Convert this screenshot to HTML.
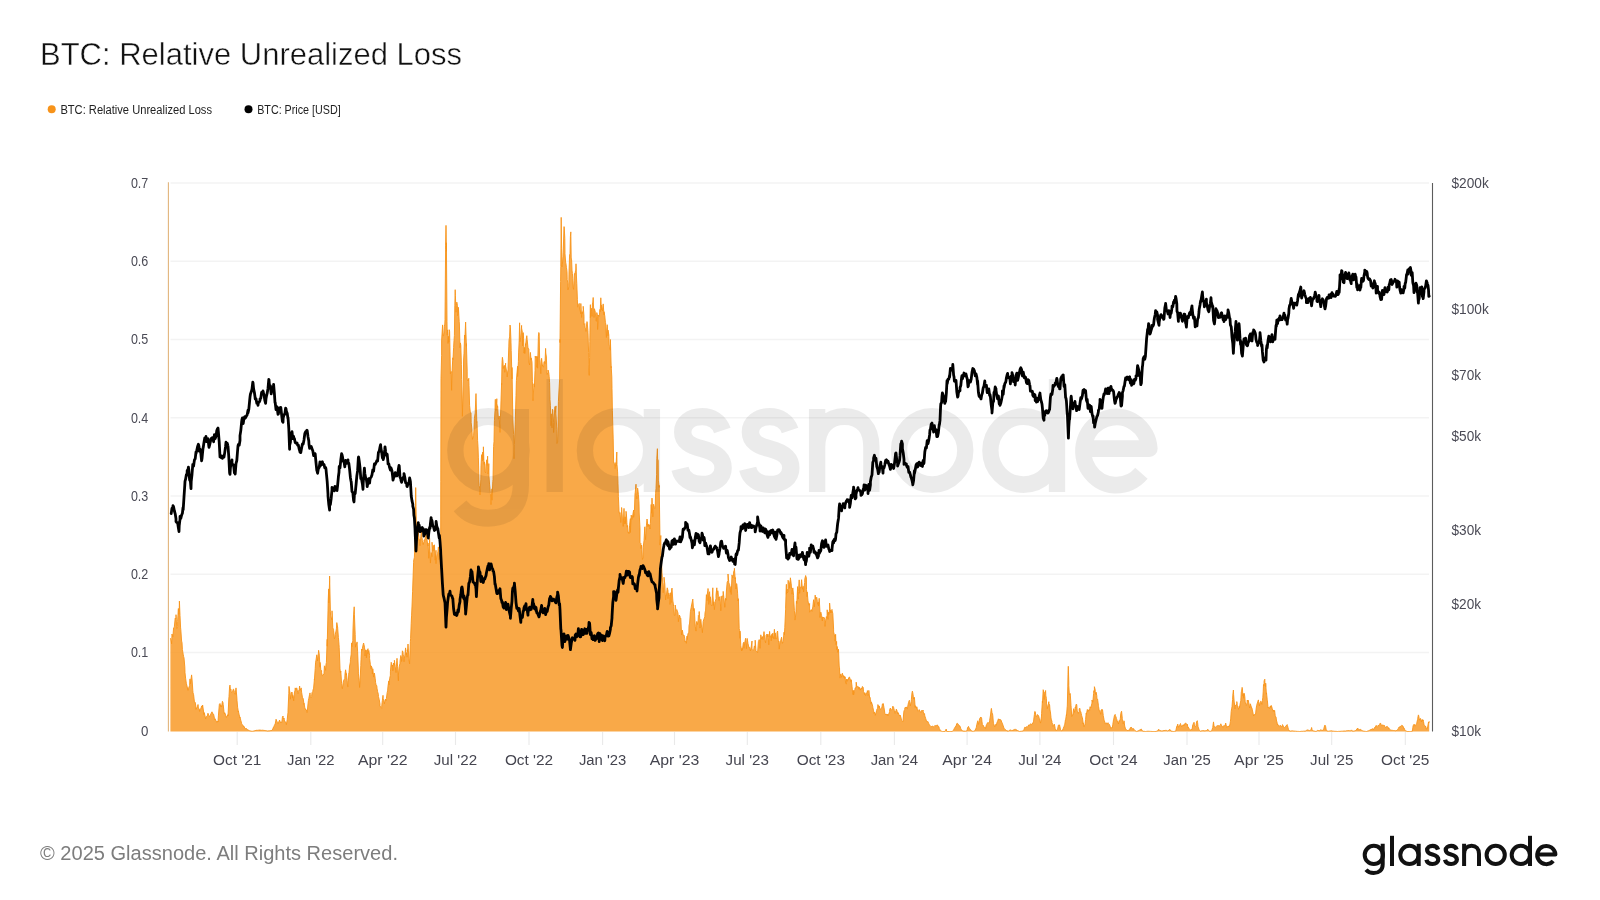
<!DOCTYPE html>
<html><head><meta charset="utf-8"><title>BTC: Relative Unrealized Loss</title>
<style>
html,body{margin:0;padding:0;background:#fff;}
body{width:1600px;height:900px;overflow:hidden;font-family:"Liberation Sans",sans-serif;}
svg{display:block;will-change:transform;}
text{font-family:"Liberation Sans",sans-serif;}
</style></head><body>
<svg width="1600" height="900" viewBox="0 0 1600 900">
<defs>
<g id="gn" fill="none" stroke-linecap="butt" stroke-linejoin="round">
<circle cx="1373.8" cy="854.9" r="9.1"/>
<path d="M1382.7 843.8 V864.2 C1382.7 870.2 1379 873 1373.7 873 C1370.4 873 1367.8 871.9 1366 869.7"/>
<path d="M1392 835.8 V866"/>
<circle cx="1409.4" cy="854.9" r="9.1"/>
<path d="M1418.7 843.8 V866"/>
<path transform="translate(1424.4 843.8) scale(1.0667 1.0230)" d="M12.8 5.6 C12 3.2 10 2 7.6 2 C4.6 2 2.6 3.7 2.6 6 C2.6 8.6 4.6 9.6 7.6 10.4 C11 11.3 13 12.6 13 15.4 C13 18 10.8 19.7 7.7 19.7 C4.6 19.7 2.5 18.2 1.9 15.6"/>
<path transform="translate(1443 843.8) scale(1.0667 1.0230)" d="M12.8 5.6 C12 3.2 10 2 7.6 2 C4.6 2 2.6 3.7 2.6 6 C2.6 8.6 4.6 9.6 7.6 10.4 C11 11.3 13 12.6 13 15.4 C13 18 10.8 19.7 7.7 19.7 C4.6 19.7 2.5 18.2 1.9 15.6"/>
<path d="M1464.1 866 V843.8 M1464.1 854 C1464.1 848.7 1467.2 845.8 1471.6 845.8 C1476 845.8 1479 848.7 1479 854 V866"/>
<circle cx="1495.7" cy="854.9" r="9.1"/>
<circle cx="1520.8" cy="854.9" r="9.1"/>
<path d="M1530 835.8 V866"/>
<path d="M1537.4 854.4 H1555.4 A9.1 9.1 0 1 0 1553.2 861"/>
</g></defs>
<rect width="1600" height="900" fill="#fff"/>
<!-- title -->
<text x="40" y="64.7" font-size="31.2" fill="#111" stroke="#fff" stroke-width="0.45" textLength="422" lengthAdjust="spacingAndGlyphs">BTC: Relative Unrealized Loss</text>
<!-- legend -->
<circle cx="51.7" cy="109.3" r="4" fill="#f7931a"/>
<text x="60.4" y="113.8" font-size="12" fill="#222" textLength="151.6" lengthAdjust="spacingAndGlyphs">BTC: Relative Unrealized Loss</text>
<circle cx="248.5" cy="109.3" r="4" fill="#000"/>
<text x="257.2" y="113.8" font-size="12" fill="#222" textLength="83.5" lengthAdjust="spacingAndGlyphs">BTC: Price [USD]</text>
<!-- grid -->
<g stroke="#f3f3f3" stroke-width="1.5"><line x1="170.5" x2="1429" y1="182.9" y2="182.9"/><line x1="170.5" x2="1429" y1="261.2" y2="261.2"/><line x1="170.5" x2="1429" y1="339.5" y2="339.5"/><line x1="170.5" x2="1429" y1="417.8" y2="417.8"/><line x1="170.5" x2="1429" y1="496.0" y2="496.0"/><line x1="170.5" x2="1429" y1="574.3" y2="574.3"/><line x1="170.5" x2="1429" y1="652.6" y2="652.6"/></g>
<!-- watermark -->

<!-- orange -->
<line x1="168.4" x2="168.4" y1="182.3" y2="731.5" stroke="#e2b57c" stroke-width="1.1"/>
<path d="M170.4 731.5 L170.4 638.2 L171.2 640.9 L171.6 643.8 L172.0 634.0 L172.8 636.9 L173.0 635.4 L173.6 627.8 L174.4 627.1 L174.4 626.4 L175.2 618.0 L176.0 618.9 L176.0 614.7 L176.8 628.5 L177.6 626.7 L177.6 621.4 L178.4 608.5 L178.5 614.5 L179.2 614.4 L179.4 601.1 L180.0 615.5 L180.6 627.9 L180.8 629.4 L181.6 641.1 L182.0 642.4 L182.4 649.5 L183.2 654.3 L183.6 656.5 L184.0 657.8 L184.8 666.9 L185.0 672.7 L185.6 678.2 L186.4 683.8 L186.4 683.8 L187.2 686.8 L188.0 690.3 L188.0 688.5 L188.8 687.5 L189.6 685.7 L190.0 678.9 L190.4 683.8 L191.2 677.8 L191.6 674.9 L192.0 678.9 L192.8 690.3 L193.0 692.7 L193.6 694.7 L194.4 701.8 L194.4 701.9 L195.2 702.3 L196.0 707.3 L196.0 709.3 L196.8 707.8 L197.6 706.3 L198.0 704.5 L198.4 708.0 L199.2 709.0 L199.6 711.5 L200.0 709.5 L200.8 708.4 L201.0 708.5 L201.6 705.9 L202.4 707.3 L202.6 705.0 L203.2 709.0 L204.0 714.6 L204.0 712.5 L204.8 714.9 L205.6 718.8 L206.0 717.7 L206.4 716.6 L207.2 716.2 L208.0 713.2 L208.0 713.4 L208.8 715.4 L209.6 716.6 L210.0 715.9 L210.4 714.9 L211.2 713.2 L212.0 711.8 L212.4 712.4 L212.8 714.0 L213.6 714.2 L214.4 718.1 L214.4 719.5 L215.2 718.8 L216.0 721.4 L216.4 721.2 L216.8 722.5 L217.6 721.2 L218.0 722.0 L218.4 715.9 L219.2 706.0 L219.4 704.3 L220.0 703.5 L220.8 706.8 L221.0 705.5 L221.6 706.9 L222.4 701.3 L223.0 702.7 L223.2 704.6 L224.0 711.8 L224.4 713.9 L224.8 712.8 L225.6 715.1 L226.4 717.1 L226.4 717.5 L227.2 716.0 L228.0 714.6 L228.0 716.0 L228.8 699.0 L229.0 696.6 L229.6 686.4 L230.0 685.1 L230.4 689.8 L230.9 689.0 L231.2 691.5 L231.6 692.4 L232.0 691.8 L232.8 690.9 L233.0 689.5 L233.6 689.2 L234.4 692.1 L234.4 692.6 L235.2 694.3 L236.0 687.9 L236.0 687.9 L236.8 697.0 L237.0 700.2 L237.6 707.2 L238.4 712.0 L238.4 711.3 L239.2 714.9 L240.0 718.0 L240.0 717.3 L240.8 720.3 L241.6 723.3 L241.6 723.9 L242.4 724.6 L243.2 725.7 L243.6 726.9 L244.0 726.4 L244.8 728.1 L245.6 728.6 L246.0 728.9 L246.4 728.4 L247.2 729.5 L248.0 730.0 L248.8 730.3 L249.0 730.4 L249.6 730.7 L250.4 730.9 L251.2 731.1 L252.0 731.4 L252.0 731.4 L252.8 731.2 L253.6 731.0 L254.4 730.8 L255.2 730.6 L256.0 730.4 L256.0 730.3 L256.8 730.3 L257.6 730.3 L258.4 730.2 L259.2 730.1 L260.0 730.0 L260.0 730.1 L260.8 730.2 L261.6 730.3 L262.4 730.2 L263.2 730.3 L264.0 730.4 L264.0 730.4 L264.8 730.5 L265.6 730.6 L266.4 730.7 L267.2 730.9 L268.0 731.0 L268.0 731.0 L268.8 730.8 L269.6 730.8 L270.4 730.6 L271.2 730.6 L272.0 730.4 L272.0 730.4 L272.8 728.8 L273.6 726.9 L274.0 726.8 L274.4 725.3 L275.2 724.0 L276.0 719.7 L276.0 719.2 L276.8 721.2 L277.6 722.4 L278.0 723.7 L278.4 722.6 L279.2 721.1 L279.6 720.0 L280.0 722.1 L280.8 722.0 L281.4 723.0 L281.6 722.8 L282.1 720.1 L282.4 717.4 L283.0 716.0 L283.2 717.8 L283.9 719.0 L284.0 718.2 L284.6 721.7 L284.8 721.5 L285.6 721.9 L286.4 723.9 L286.4 724.6 L287.2 719.7 L288.0 712.2 L288.0 710.9 L288.8 693.5 L289.0 686.4 L289.6 690.9 L289.9 692.1 L290.4 697.0 L290.4 699.2 L291.1 694.4 L291.2 692.8 L292.0 692.3 L292.0 692.0 L292.8 698.1 L292.9 695.4 L293.6 700.3 L293.6 700.9 L294.4 692.9 L295.0 690.3 L295.2 687.9 L296.0 689.9 L296.4 688.1 L296.8 687.9 L297.6 692.3 L298.0 693.7 L298.4 691.3 L299.2 689.7 L299.6 686.0 L300.0 690.3 L300.8 689.0 L301.2 687.9 L301.6 692.2 L302.4 697.0 L302.6 697.7 L303.2 698.6 L304.0 704.4 L304.0 703.3 L304.8 707.6 L305.6 709.8 L305.6 709.2 L306.4 710.0 L307.0 712.3 L307.2 712.6 L308.0 703.9 L308.4 700.5 L308.8 698.4 L309.6 694.4 L310.0 692.9 L310.4 696.4 L311.2 697.6 L311.6 696.6 L312.0 692.7 L312.8 691.4 L313.0 690.0 L313.6 688.2 L314.4 679.4 L314.4 680.1 L315.2 668.7 L315.6 662.2 L316.0 660.1 L316.8 654.8 L317.0 655.6 L317.6 661.0 L318.4 653.2 L318.6 650.3 L319.2 653.7 L320.0 667.2 L320.0 662.4 L320.8 669.6 L321.6 670.7 L321.6 672.8 L322.4 675.8 L323.0 675.3 L323.2 675.2 L324.0 673.4 L324.4 665.8 L324.8 666.3 L325.6 670.4 L326.0 664.2 L326.4 662.6 L327.2 639.3 L327.2 646.2 L328.0 610.9 L328.2 600.8 L328.7 588.9 L328.8 603.0 L329.6 580.8 L329.6 576.0 L330.4 611.8 L330.6 615.9 L331.2 617.4 L332.0 620.0 L332.0 610.8 L332.8 627.9 L333.6 629.6 L333.6 630.3 L334.4 638.8 L335.0 637.2 L335.2 634.7 L336.0 631.1 L336.4 628.8 L336.8 622.6 L337.6 627.2 L337.6 627.1 L338.4 637.5 L339.0 644.4 L339.2 647.4 L340.0 668.8 L340.4 672.6 L340.8 671.0 L341.6 683.7 L342.0 687.3 L342.4 688.7 L343.2 682.5 L343.6 680.5 L344.0 679.8 L344.8 678.4 L345.0 673.9 L345.6 669.8 L346.4 675.0 L346.4 673.6 L347.2 680.3 L347.6 686.8 L348.0 687.0 L348.8 673.0 L349.0 672.5 L349.6 666.0 L350.4 661.9 L350.4 659.7 L351.2 654.1 L351.6 642.9 L352.0 646.6 L352.8 640.5 L353.0 628.9 L353.6 614.9 L354.2 606.8 L354.4 614.2 L355.2 634.7 L355.4 647.2 L356.0 643.6 L356.8 644.2 L357.0 641.9 L357.6 651.2 L358.4 671.1 L358.4 673.9 L359.2 680.3 L359.6 687.5 L360.0 681.8 L360.8 665.5 L361.0 659.6 L361.6 649.0 L362.4 650.2 L362.4 648.3 L363.2 644.4 L363.6 643.0 L364.0 644.8 L364.5 647.2 L364.8 650.7 L365.0 656.0 L365.6 649.9 L366.4 650.2 L366.4 657.9 L367.2 651.3 L368.0 648.7 L368.0 653.7 L368.8 650.4 L369.6 655.4 L369.6 658.4 L370.4 664.5 L371.0 668.8 L371.2 665.9 L372.0 667.7 L372.4 673.9 L372.8 668.8 L373.6 677.1 L374.0 673.6 L374.4 673.0 L375.2 678.4 L375.6 682.6 L376.0 684.5 L376.8 685.9 L377.0 688.2 L377.6 691.6 L378.4 694.5 L378.4 696.4 L379.2 699.4 L380.0 704.2 L380.0 705.8 L380.8 707.5 L381.6 708.3 L381.6 707.8 L382.1 702.4 L382.4 700.3 L383.0 695.3 L383.2 698.6 L383.9 700.1 L384.0 701.4 L384.4 703.8 L384.8 701.5 L385.6 699.1 L386.0 700.6 L386.4 698.5 L387.2 692.4 L387.6 690.9 L388.0 686.1 L388.8 680.9 L389.0 684.9 L389.6 678.7 L390.4 675.3 L390.4 671.9 L391.2 662.3 L391.6 663.4 L392.0 666.2 L392.5 665.1 L392.8 670.8 L393.0 668.8 L393.6 663.0 L394.4 665.2 L394.4 660.3 L395.2 666.6 L396.0 672.5 L396.0 670.6 L396.8 660.6 L397.0 658.3 L397.6 666.7 L397.9 669.7 L398.4 680.8 L398.4 675.3 L399.2 666.7 L400.0 663.2 L400.0 661.7 L400.8 655.5 L401.6 658.4 L401.6 661.5 L402.1 656.4 L402.4 650.8 L403.0 652.1 L403.2 655.1 L403.9 656.2 L404.0 661.7 L404.4 658.2 L404.8 656.0 L405.6 647.9 L405.6 652.2 L406.4 654.9 L406.5 652.7 L407.0 657.2 L407.2 649.7 L407.5 651.7 L408.0 644.0 L408.4 650.1 L408.8 658.9 L409.6 663.8 L409.6 662.5 L410.4 641.3 L410.6 638.5 L411.2 623.5 L411.6 615.2 L412.0 606.0 L412.6 591.3 L412.8 585.0 L413.6 562.3 L413.6 561.1 L414.4 557.2 L415.0 540.5 L415.2 520.1 L415.7 487.6 L416.0 506.6 L416.5 536.2 L416.8 527.9 L417.6 540.6 L418.0 536.7 L418.4 532.0 L419.2 540.2 L420.0 539.3 L420.0 545.7 L420.8 536.4 L421.6 527.9 L422.0 537.3 L422.4 540.7 L423.2 544.6 L424.0 541.6 L424.0 539.9 L424.8 539.8 L425.6 536.8 L426.0 534.3 L426.4 534.3 L427.2 541.1 L428.0 546.1 L428.0 543.0 L428.8 558.3 L429.6 538.5 L430.0 550.3 L430.4 563.1 L431.2 552.6 L432.0 556.7 L432.0 542.2 L432.8 551.2 L433.6 545.4 L434.0 550.5 L434.4 544.8 L435.2 560.2 L436.0 550.3 L436.0 563.6 L436.8 556.0 L437.6 553.3 L438.0 551.2 L438.4 546.9 L439.2 559.7 L440.0 553.0 L440.0 558.6 L440.7 537.9 L440.8 481.2 L441.0 378.8 L441.6 355.4 L441.6 341.0 L442.4 328.1 L442.6 324.9 L443.2 336.0 L443.6 335.9 L444.0 332.9 L444.4 326.2 L444.8 324.1 L445.0 319.5 L445.6 249.8 L445.6 245.8 L446.0 225.4 L446.4 251.3 L446.4 242.8 L447.0 321.7 L447.2 335.2 L447.6 329.9 L448.0 343.4 L448.4 336.3 L448.8 342.1 L449.2 329.7 L449.6 331.5 L450.0 351.1 L450.4 373.7 L451.2 371.5 L451.6 390.3 L452.0 372.8 L452.8 357.8 L453.0 359.7 L453.6 347.6 L454.0 340.6 L454.4 335.5 L454.8 305.8 L455.2 289.7 L455.4 295.6 L456.0 312.2 L456.4 305.6 L456.8 302.1 L457.4 305.2 L457.6 315.7 L458.4 313.0 L458.4 307.3 L459.2 321.3 L459.4 324.0 L460.0 347.7 L460.4 342.9 L460.8 345.3 L461.4 364.3 L461.6 379.6 L462.4 412.3 L462.4 416.3 L463.2 385.9 L463.6 360.0 L464.0 353.2 L464.6 335.0 L464.8 340.0 L465.6 322.9 L465.6 322.0 L466.4 346.3 L466.4 343.6 L467.2 371.1 L467.2 379.4 L468.0 380.1 L468.0 381.0 L468.8 378.3 L469.0 385.6 L469.6 405.7 L470.4 412.7 L471.0 412.8 L471.2 422.7 L472.0 430.2 L472.4 439.4 L472.8 438.0 L473.6 435.3 L474.0 429.6 L474.4 418.5 L475.1 413.4 L475.2 412.9 L476.0 393.6 L476.0 395.0 L476.8 422.3 L477.0 421.7 L477.6 440.6 L478.0 446.8 L478.4 457.8 L479.0 481.9 L479.2 485.5 L480.0 490.3 L480.0 494.9 L480.8 479.1 L481.0 465.8 L481.6 454.7 L482.0 455.5 L482.4 460.9 L482.5 452.2 L483.2 459.9 L483.4 446.8 L484.0 464.3 L484.4 461.9 L484.8 471.6 L485.6 472.8 L486.0 464.2 L486.4 463.1 L486.7 459.8 L487.2 465.5 L487.6 456.2 L488.0 473.9 L488.5 471.1 L488.8 463.6 L489.0 476.3 L489.6 484.9 L490.0 488.3 L490.4 493.6 L491.0 504.6 L491.2 499.8 L492.0 488.8 L492.0 500.2 L492.8 481.4 L493.0 479.7 L493.6 446.5 L494.0 441.6 L494.4 420.6 L495.0 410.6 L495.2 399.4 L496.0 400.2 L496.0 410.4 L496.8 398.7 L496.9 403.8 L497.6 407.4 L497.6 406.2 L498.4 419.1 L499.0 418.4 L499.2 416.1 L500.0 432.4 L500.0 426.0 L500.8 408.0 L501.0 400.8 L501.6 383.4 L501.6 384.7 L502.0 362.6 L502.4 357.3 L503.0 361.4 L503.2 368.6 L504.0 365.5 L504.4 365.5 L504.8 372.3 L505.6 363.2 L505.6 365.9 L506.4 370.2 L507.0 372.0 L507.2 377.0 L508.0 369.6 L508.0 368.4 L508.8 346.9 L509.0 340.2 L509.6 336.9 L510.0 325.0 L510.4 327.3 L511.0 342.4 L511.2 350.6 L512.0 378.9 L512.0 367.5 L512.8 418.0 L513.6 434.5 L514.0 458.7 L514.4 444.8 L515.2 424.1 L516.0 395.5 L516.4 380.6 L516.8 375.1 L517.6 366.2 L517.6 376.5 L518.4 361.6 L518.6 352.9 L519.2 340.3 L519.6 322.8 L520.0 341.7 L520.6 337.8 L520.8 336.0 L521.6 325.4 L521.6 328.1 L522.4 332.4 L522.6 345.8 L523.2 332.6 L523.6 338.7 L524.0 353.1 L524.6 347.4 L524.8 353.5 L525.6 343.7 L525.6 345.2 L526.4 338.0 L526.8 335.7 L527.2 339.7 L528.0 348.3 L528.0 348.1 L528.8 349.1 L529.0 362.4 L529.6 365.0 L530.0 355.8 L530.4 352.4 L531.0 360.0 L531.2 357.9 L532.0 362.2 L532.4 381.3 L532.8 397.0 L533.0 400.7 L533.6 390.0 L534.0 383.7 L534.4 387.1 L535.0 370.6 L535.2 356.1 L536.0 358.0 L536.4 356.3 L536.8 367.3 L537.6 356.5 L537.6 368.2 L538.4 336.2 L538.8 332.5 L539.2 333.5 L539.6 358.2 L540.0 360.9 L540.8 373.7 L541.0 366.2 L541.6 358.3 L542.4 365.7 L542.4 364.9 L543.2 366.7 L543.6 367.2 L544.0 361.6 L544.8 361.9 L545.0 363.7 L545.6 348.4 L545.8 353.0 L546.4 357.0 L546.8 369.7 L547.2 374.5 L548.0 372.6 L548.0 370.0 L548.8 373.0 L549.2 376.7 L549.6 382.7 L550.0 399.5 L550.4 405.3 L551.0 425.7 L551.2 413.8 L551.5 420.5 L552.0 427.9 L552.4 409.2 L552.8 409.9 L553.6 422.3 L553.6 432.5 L554.4 415.0 L555.0 406.6 L555.2 412.3 L556.0 405.9 L556.0 413.9 L556.8 429.5 L557.0 443.5 L557.6 442.2 L558.0 426.8 L558.4 401.6 L559.0 390.0 L559.2 387.0 L559.6 379.7 L560.0 339.4 L560.0 342.6 L560.6 281.5 L560.8 266.3 L561.2 217.4 L561.6 248.7 L562.0 266.9 L562.4 264.2 L563.0 256.3 L563.2 252.2 L563.6 240.0 L564.0 226.6 L564.2 226.8 L564.8 238.4 L565.0 253.7 L565.6 262.0 L566.0 263.9 L566.4 267.3 L567.0 271.7 L567.2 279.5 L568.0 284.0 L568.0 289.8 L568.8 287.0 L569.0 273.0 L569.6 254.6 L570.0 253.9 L570.4 236.5 L570.8 231.9 L571.2 258.0 L571.6 259.9 L572.0 270.1 L572.4 273.5 L572.8 278.3 L573.2 287.7 L573.6 289.3 L574.2 280.3 L574.4 273.6 L575.2 274.1 L575.2 272.1 L575.8 270.1 L576.0 263.8 L576.6 280.0 L576.8 283.7 L577.4 299.3 L577.6 307.0 L578.4 306.3 L578.4 305.5 L579.2 303.4 L579.6 309.6 L580.0 309.6 L580.8 313.9 L580.8 303.5 L581.6 317.5 L582.0 311.9 L582.4 313.6 L583.2 309.8 L583.2 306.3 L584.0 316.3 L584.0 324.4 L584.8 323.6 L585.0 327.3 L585.6 328.7 L586.0 331.4 L586.4 326.1 L587.0 321.6 L587.2 322.2 L588.0 332.2 L588.0 332.8 L588.6 352.3 L588.8 364.2 L589.2 375.4 L589.6 357.5 L589.8 341.3 L590.4 304.7 L590.4 317.6 L591.2 311.3 L591.6 308.3 L592.0 316.4 L592.4 304.0 L592.8 302.1 L593.2 297.5 L593.6 308.1 L594.0 317.5 L594.4 308.7 L595.2 311.6 L595.2 311.5 L596.0 320.2 L596.4 321.3 L596.8 312.6 L597.6 316.3 L597.6 329.5 L598.4 315.1 L599.0 316.3 L599.2 316.3 L600.0 309.4 L600.2 311.8 L600.8 297.8 L601.4 310.1 L601.6 305.1 L602.4 309.4 L602.6 311.0 L603.2 303.9 L604.0 314.9 L604.0 311.7 L604.8 316.0 L605.4 322.3 L605.6 322.7 L606.4 337.5 L606.8 328.9 L607.2 324.7 L608.0 335.7 L608.0 330.1 L608.8 334.8 L609.2 345.1 L609.6 346.4 L610.4 350.2 L610.4 339.5 L611.2 367.7 L611.2 366.5 L611.8 376.9 L612.0 388.5 L612.4 410.8 L612.8 425.3 L613.2 438.9 L613.6 462.5 L614.0 462.3 L614.4 464.0 L615.0 468.7 L615.2 468.8 L616.0 462.5 L616.0 466.0 L616.8 452.0 L617.0 464.5 L617.6 471.9 L618.0 483.7 L618.4 496.7 L619.0 510.6 L619.2 512.9 L620.0 513.3 L620.0 512.6 L620.8 522.5 L621.6 509.7 L621.6 507.5 L622.4 517.9 L623.0 518.3 L623.2 526.4 L624.0 508.4 L624.4 520.2 L624.8 524.0 L625.1 516.8 L625.6 523.3 L626.0 511.3 L626.4 513.7 L626.9 522.3 L627.2 527.1 L627.6 525.5 L628.0 532.6 L628.8 532.2 L629.0 533.6 L629.6 525.3 L630.4 518.6 L630.4 532.5 L631.2 515.1 L632.0 517.8 L632.0 519.4 L632.8 514.7 L633.6 510.1 L633.6 517.3 L634.4 511.3 L635.0 493.9 L635.2 492.8 L636.0 484.2 L636.4 495.2 L636.8 498.9 L637.6 492.0 L637.6 488.1 L638.4 494.4 L639.0 503.2 L639.2 513.0 L640.0 528.8 L640.0 542.5 L640.8 543.3 L641.0 548.5 L641.6 545.0 L642.4 559.5 L643.0 557.7 L643.2 547.3 L644.0 540.7 L644.8 526.8 L645.0 533.3 L645.6 539.7 L646.1 527.5 L646.4 525.8 L647.0 519.0 L647.2 520.0 L647.9 526.5 L648.0 524.1 L648.4 526.2 L648.8 524.7 L649.6 525.1 L650.0 529.0 L650.4 523.4 L651.2 504.5 L651.6 513.2 L652.0 498.1 L652.8 516.9 L653.0 513.6 L653.6 504.2 L654.4 507.6 L654.4 508.4 L655.2 508.5 L655.6 493.3 L656.0 488.6 L656.6 474.7 L656.8 458.7 L657.4 448.7 L657.6 459.0 L658.2 460.3 L658.4 480.2 L659.2 487.4 L659.2 485.4 L660.0 541.3 L660.0 545.1 L660.8 535.5 L661.0 549.1 L661.6 564.0 L662.0 572.9 L662.4 577.5 L663.2 592.8 L664.0 582.4 L664.0 577.2 L664.8 584.1 L665.6 600.0 L666.0 595.0 L666.4 595.3 L667.2 587.8 L668.0 590.5 L668.0 598.6 L668.8 592.9 L669.6 596.4 L670.0 604.4 L670.4 596.8 L670.7 592.7 L671.2 602.6 L671.6 590.1 L672.0 588.1 L672.5 596.0 L672.8 600.2 L673.0 601.6 L673.6 606.3 L674.4 615.5 L675.0 615.4 L675.2 605.0 L676.0 610.4 L676.8 609.6 L677.6 611.9 L678.0 613.3 L678.4 621.7 L679.2 615.0 L680.0 616.1 L680.0 618.2 L680.8 618.1 L681.6 635.0 L682.4 630.1 L682.4 630.3 L683.2 635.4 L684.0 635.0 L684.8 638.7 L685.0 641.7 L685.6 640.9 L686.4 643.3 L687.0 636.1 L687.2 639.6 L688.0 633.3 L688.8 632.7 L689.0 625.8 L689.6 623.1 L690.4 611.7 L691.2 607.3 L691.6 604.9 L692.0 603.1 L692.8 599.1 L693.6 610.8 L694.0 608.3 L694.4 610.0 L695.2 626.2 L696.0 631.1 L696.0 625.3 L696.8 621.4 L697.6 624.6 L698.1 621.1 L698.4 615.3 L699.0 614.7 L699.2 611.5 L699.9 620.5 L700.0 628.1 L700.8 619.3 L701.6 627.0 L702.0 628.4 L702.4 632.7 L703.2 621.5 L704.0 618.9 L704.8 616.8 L705.0 612.9 L705.6 610.2 L706.4 594.7 L707.1 600.7 L707.2 594.5 L708.0 590.2 L708.0 588.5 L708.8 604.4 L708.9 594.4 L709.6 591.7 L710.0 602.4 L710.4 596.8 L711.2 605.3 L712.0 605.8 L712.1 601.0 L712.8 587.8 L713.0 595.9 L713.6 605.4 L713.9 601.9 L714.4 609.6 L715.2 601.5 L716.0 598.7 L716.0 595.0 L716.8 587.8 L717.1 594.4 L717.6 590.9 L718.0 590.7 L718.4 596.4 L718.9 600.5 L719.2 598.4 L720.0 596.5 L720.8 610.8 L721.0 607.7 L721.6 596.2 L722.4 596.0 L723.0 596.6 L723.2 591.4 L724.0 598.8 L724.8 607.3 L725.6 598.3 L726.0 600.2 L726.4 591.0 L727.2 581.9 L728.0 580.8 L728.0 574.0 L728.8 582.9 L729.6 584.4 L730.4 592.3 L731.0 586.5 L731.2 594.5 L732.0 574.9 L732.8 578.0 L733.0 577.7 L733.5 576.2 L733.6 571.7 L734.4 570.0 L734.4 568.3 L735.2 578.9 L735.3 577.6 L736.0 589.0 L736.0 584.2 L736.8 583.7 L737.6 593.2 L738.0 601.0 L738.4 598.7 L739.2 628.7 L739.6 630.5 L740.0 638.3 L740.0 631.1 L740.8 645.5 L741.6 650.9 L742.0 648.2 L742.4 650.2 L743.2 643.5 L744.0 642.1 L744.0 648.3 L744.8 642.6 L745.6 638.3 L746.0 640.4 L746.4 648.7 L747.2 638.4 L748.0 643.5 L748.8 647.3 L749.0 647.0 L749.6 647.4 L750.4 650.9 L751.2 646.9 L752.0 641.0 L752.0 649.0 L752.8 650.7 L753.6 650.4 L754.4 645.9 L755.0 647.6 L755.2 640.2 L756.0 650.8 L756.8 652.2 L757.6 652.1 L757.6 652.4 L758.4 641.5 L759.2 639.6 L760.0 641.1 L760.0 648.3 L760.8 634.8 L761.6 639.1 L762.4 636.6 L763.0 639.5 L763.2 638.5 L764.0 631.6 L764.8 639.7 L765.0 640.4 L765.6 642.8 L766.1 635.2 L766.4 634.6 L767.0 634.5 L767.2 634.2 L767.9 637.0 L768.0 634.2 L768.8 644.8 L769.6 631.4 L770.0 636.6 L770.4 637.4 L771.1 635.4 L771.2 640.8 L772.0 633.9 L772.0 638.1 L772.8 633.2 L772.9 635.5 L773.6 638.7 L774.4 629.3 L775.0 639.1 L775.2 632.9 L776.0 638.2 L776.1 638.0 L776.8 638.7 L777.0 632.6 L777.6 631.0 L777.9 635.8 L778.4 641.6 L779.0 641.1 L779.2 649.1 L780.0 642.4 L780.8 640.2 L781.6 637.2 L782.0 640.6 L782.4 643.3 L783.2 641.7 L784.0 632.2 L784.4 634.7 L784.8 627.3 L785.6 609.8 L785.6 608.2 L786.4 584.3 L786.4 594.2 L787.2 589.1 L787.3 592.9 L788.0 591.7 L788.0 580.3 L788.8 581.4 L789.6 584.4 L789.6 588.3 L790.4 577.8 L791.2 583.7 L791.6 589.3 L792.0 594.2 L792.8 587.9 L793.6 595.7 L793.6 597.9 L794.4 610.5 L795.0 620.1 L795.2 619.6 L796.0 611.2 L796.4 601.2 L796.8 603.5 L797.6 586.6 L797.6 595.6 L798.4 599.1 L798.5 591.3 L799.2 579.9 L799.6 593.3 L800.0 590.2 L800.8 586.8 L801.0 587.5 L801.6 579.7 L802.4 589.2 L803.2 586.3 L803.6 592.0 L804.0 587.4 L804.7 582.5 L804.8 578.9 L805.6 575.8 L805.6 575.5 L806.4 578.0 L806.5 589.6 L807.0 596.7 L807.2 591.9 L808.0 600.9 L808.8 605.2 L809.6 603.5 L809.6 612.2 L810.4 611.1 L811.2 609.6 L812.0 611.3 L812.0 610.9 L812.8 606.9 L813.6 599.7 L814.4 604.7 L814.4 607.0 L815.2 595.1 L815.5 599.0 L816.0 597.1 L816.4 598.4 L816.8 597.6 L817.3 601.2 L817.6 604.3 L818.4 602.2 L818.4 606.1 L819.2 598.3 L820.0 612.4 L820.0 617.5 L820.8 612.1 L821.6 615.6 L822.4 620.9 L822.4 616.9 L823.2 617.7 L824.0 617.2 L824.8 619.5 L825.0 626.4 L825.6 620.9 L826.4 616.6 L827.0 618.1 L827.2 609.8 L828.0 619.3 L828.7 612.1 L828.8 614.6 L829.6 608.8 L829.6 603.1 L830.4 612.8 L830.5 610.2 L831.2 613.0 L832.0 609.4 L832.0 610.3 L832.8 613.4 L833.6 629.1 L833.6 632.0 L834.4 634.8 L835.2 641.2 L835.6 634.3 L836.0 644.6 L836.6 641.4 L836.8 649.6 L837.2 646.5 L837.6 652.3 L838.4 651.1 L838.5 649.2 L839.2 666.1 L839.5 667.6 L839.8 677.3 L840.0 678.1 L840.8 673.9 L841.2 675.3 L841.6 677.3 L842.4 673.2 L842.5 674.2 L843.2 675.2 L843.8 677.3 L844.0 675.9 L844.8 678.6 L845.1 676.8 L845.6 683.0 L846.4 684.1 L846.4 679.1 L847.2 681.3 L847.7 679.3 L848.0 680.1 L848.8 677.5 L849.6 677.1 L849.7 678.0 L850.4 679.4 L851.0 681.9 L851.2 679.7 L852.0 686.2 L852.3 689.1 L852.8 694.4 L853.6 690.4 L853.6 694.9 L854.4 690.3 L854.9 689.5 L855.2 687.8 L856.0 687.9 L856.2 682.2 L856.8 686.6 L857.6 686.6 L857.6 686.7 L858.4 686.8 L858.9 689.2 L859.2 687.6 L860.0 687.8 L860.2 690.1 L860.8 689.0 L861.5 688.2 L861.6 689.1 L862.4 686.5 L862.4 686.8 L863.2 687.3 L863.5 691.6 L864.0 692.7 L864.8 694.8 L864.8 692.7 L865.6 695.6 L866.1 694.8 L866.4 692.9 L867.2 692.3 L867.4 690.6 L868.0 695.5 L868.7 693.4 L868.8 690.4 L869.6 697.3 L870.0 697.1 L870.4 699.3 L871.2 704.1 L871.3 701.9 L872.0 703.7 L872.7 706.2 L872.8 707.2 L873.6 710.8 L874.0 713.5 L874.4 712.2 L875.2 714.4 L875.3 715.3 L876.0 712.6 L876.6 710.8 L876.8 709.4 L877.6 708.2 L877.9 704.6 L878.4 706.0 L879.2 707.8 L879.2 705.9 L880.0 709.2 L880.5 709.3 L880.8 708.7 L881.6 708.0 L881.8 708.2 L882.4 704.0 L883.2 704.5 L883.2 703.5 L884.0 707.7 L884.5 711.0 L884.8 713.3 L885.6 714.8 L885.8 714.2 L886.4 714.2 L887.1 715.3 L887.2 714.1 L888.0 715.9 L888.4 714.1 L888.8 714.2 L889.6 711.6 L889.7 709.5 L890.4 708.0 L891.0 710.2 L891.2 710.2 L892.0 709.3 L892.3 708.7 L892.8 706.2 L893.6 707.1 L893.7 707.8 L894.4 710.7 L895.0 713.4 L895.2 712.8 L896.0 710.5 L896.3 709.2 L896.8 710.1 L897.6 713.6 L897.6 712.8 L898.4 712.8 L898.9 714.9 L899.2 714.9 L900.0 716.1 L900.2 715.2 L900.8 717.0 L901.5 720.0 L901.6 720.5 L902.4 721.5 L902.8 721.9 L903.2 719.1 L903.8 712.1 L904.0 710.9 L904.8 709.3 L904.8 708.0 L905.6 707.0 L906.1 707.7 L906.4 706.9 L907.2 708.9 L907.4 708.9 L908.0 704.9 L908.5 702.6 L908.8 701.4 L909.4 700.3 L909.6 701.5 L910.3 705.4 L910.4 705.9 L911.2 701.5 L911.4 699.3 L912.0 692.7 L912.4 691.1 L912.8 692.9 L913.3 696.2 L913.6 699.1 L914.3 697.6 L914.4 697.3 L915.2 707.5 L915.3 705.7 L916.0 706.9 L916.6 708.4 L916.8 706.8 L917.6 710.8 L917.9 710.9 L918.4 710.7 L919.2 710.3 L919.2 709.6 L920.0 711.2 L920.6 712.2 L920.8 712.6 L921.6 710.4 L921.9 711.1 L922.4 710.8 L923.2 710.0 L923.2 711.8 L924.0 714.4 L924.5 713.6 L924.8 715.9 L925.6 718.3 L925.8 718.8 L926.4 720.9 L927.1 721.2 L927.2 722.0 L928.0 721.6 L928.4 722.4 L928.8 723.7 L929.6 725.4 L929.8 725.4 L930.4 726.0 L931.1 726.7 L931.2 726.5 L932.0 726.7 L932.4 726.1 L932.8 726.1 L933.6 726.7 L933.7 726.9 L934.4 726.4 L935.0 725.4 L935.2 725.8 L936.0 725.9 L936.3 726.2 L936.8 725.1 L937.6 725.0 L937.6 725.3 L938.4 726.6 L938.9 726.7 L939.2 728.3 L940.0 729.7 L940.2 730.6 L940.8 730.8 L941.6 731.2 L942.2 731.5 L942.4 731.5 L943.2 731.5 L944.0 731.5 L944.8 731.5 L944.8 731.5 L945.6 730.2 L946.2 729.1 L946.4 730.0 L946.8 731.5 L947.2 731.5 L948.0 731.5 L948.8 731.5 L949.6 731.5 L950.4 731.5 L951.2 731.5 L952.0 731.5 L952.1 731.5 L952.8 730.9 L953.4 730.5 L953.6 730.1 L954.4 728.3 L954.7 727.8 L955.2 726.9 L956.0 726.0 L956.0 726.1 L956.8 723.6 L957.3 723.3 L957.6 724.0 L958.4 724.3 L958.6 724.7 L959.2 725.8 L959.9 725.9 L960.0 726.2 L960.8 728.7 L961.2 729.4 L961.6 729.7 L962.4 730.7 L962.6 731.0 L963.2 731.0 L964.0 731.1 L964.8 731.1 L965.6 731.2 L966.4 731.2 L966.5 731.2 L967.2 729.8 L967.5 728.0 L968.0 727.1 L968.5 726.4 L968.8 727.3 L969.6 728.5 L969.8 728.8 L970.4 729.4 L971.1 730.6 L971.2 730.7 L972.0 731.0 L972.8 731.4 L973.1 731.5 L973.6 731.2 L974.4 730.9 L975.0 730.6 L975.2 730.0 L976.0 728.2 L976.3 727.4 L976.8 724.6 L977.6 721.5 L977.7 720.8 L978.4 723.6 L978.6 724.4 L979.2 720.8 L979.6 718.8 L980.0 718.1 L980.8 717.0 L980.9 717.0 L981.6 718.1 L982.0 721.8 L982.4 724.7 L982.9 725.7 L983.2 725.3 L984.0 727.2 L984.2 727.2 L984.8 728.0 L985.5 727.8 L985.6 728.3 L986.4 724.7 L986.8 724.3 L987.2 723.2 L988.0 722.6 L988.2 723.0 L988.8 722.6 L989.5 722.7 L989.6 720.5 L990.4 715.9 L990.4 716.1 L991.2 709.1 L991.4 708.4 L992.0 712.7 L992.5 713.8 L992.8 715.7 L993.4 723.1 L993.6 723.7 L994.4 725.9 L994.7 726.8 L995.2 725.7 L996.0 724.3 L996.0 725.3 L996.8 723.2 L997.3 721.5 L997.6 721.4 L998.4 718.8 L998.7 719.9 L999.2 719.5 L1000.0 719.6 L1000.0 719.1 L1000.8 720.8 L1001.3 720.5 L1001.6 722.0 L1002.4 723.3 L1002.6 724.1 L1003.2 725.8 L1003.9 728.0 L1004.0 728.2 L1004.8 729.2 L1005.2 729.3 L1005.6 729.7 L1006.4 730.5 L1006.5 730.6 L1007.2 730.8 L1008.0 731.1 L1008.5 731.2 L1008.8 730.9 L1009.6 730.1 L1009.8 729.9 L1010.4 730.0 L1011.2 730.4 L1011.8 730.5 L1012.0 730.6 L1012.8 730.3 L1013.6 729.8 L1013.8 729.9 L1014.4 729.7 L1015.2 728.9 L1015.7 729.4 L1016.0 730.0 L1016.8 730.0 L1017.6 730.6 L1017.7 730.6 L1018.4 730.9 L1019.2 731.3 L1019.7 731.5 L1020.0 731.4 L1020.8 731.3 L1021.6 731.2 L1021.6 731.2 L1022.4 731.0 L1023.2 730.7 L1023.6 730.6 L1024.0 729.4 L1024.8 727.2 L1024.9 727.0 L1025.6 727.5 L1026.4 726.9 L1026.9 726.7 L1027.2 727.2 L1028.0 726.2 L1028.8 724.8 L1028.8 725.6 L1029.6 724.8 L1030.4 724.2 L1030.8 723.7 L1031.2 724.9 L1032.0 724.2 L1032.8 723.1 L1032.8 723.2 L1033.6 721.2 L1033.8 719.1 L1034.4 714.6 L1034.8 711.5 L1035.2 711.7 L1036.0 716.7 L1036.1 716.4 L1036.8 716.3 L1037.4 714.5 L1037.6 714.7 L1038.4 715.5 L1038.7 716.0 L1039.2 718.3 L1039.5 718.6 L1040.0 720.8 L1040.5 723.1 L1040.8 721.5 L1041.5 716.1 L1041.6 713.5 L1042.4 701.2 L1042.5 702.8 L1043.2 689.7 L1043.4 690.1 L1044.0 697.1 L1044.2 699.5 L1044.8 692.1 L1045.0 692.4 L1045.6 690.5 L1045.8 695.3 L1046.4 698.5 L1046.5 703.9 L1047.2 706.1 L1047.3 708.7 L1048.0 706.3 L1048.1 705.5 L1048.8 701.7 L1049.0 703.8 L1049.6 704.8 L1050.0 710.0 L1050.4 711.8 L1051.0 717.6 L1051.2 719.1 L1052.0 721.7 L1052.0 722.7 L1052.8 724.6 L1053.1 726.5 L1053.6 725.6 L1054.3 724.1 L1054.4 724.3 L1055.2 728.5 L1055.2 728.7 L1056.0 730.1 L1056.2 730.6 L1056.8 730.1 L1057.6 729.3 L1057.6 729.0 L1058.4 725.1 L1058.6 725.2 L1059.2 725.6 L1059.5 724.8 L1060.0 726.9 L1060.5 729.9 L1060.8 730.2 L1061.6 730.8 L1061.8 731.0 L1062.4 730.1 L1063.1 729.0 L1063.2 728.6 L1064.0 726.6 L1064.4 725.3 L1064.8 724.2 L1065.4 720.0 L1065.6 719.9 L1066.4 714.7 L1066.5 715.6 L1067.2 706.8 L1067.3 706.1 L1067.8 686.1 L1068.0 674.3 L1068.3 666.3 L1068.8 682.1 L1068.8 685.7 L1069.4 695.0 L1069.6 694.8 L1070.2 693.5 L1070.4 696.0 L1071.0 705.4 L1071.2 707.4 L1071.7 716.6 L1072.0 716.2 L1072.7 714.8 L1072.8 715.1 L1073.6 709.0 L1073.6 708.7 L1074.4 711.9 L1074.6 712.3 L1075.2 707.4 L1075.5 708.0 L1076.0 704.7 L1076.5 704.1 L1076.8 705.2 L1077.2 711.0 L1077.6 711.8 L1078.3 713.5 L1078.4 712.9 L1079.2 711.4 L1079.2 708.7 L1080.0 708.4 L1080.1 711.0 L1080.8 711.6 L1081.2 713.5 L1081.6 715.4 L1082.2 717.4 L1082.4 717.6 L1083.2 723.7 L1083.2 722.9 L1084.0 726.6 L1084.1 725.8 L1084.8 724.9 L1085.1 723.7 L1085.6 719.4 L1086.2 713.2 L1086.4 714.3 L1087.1 710.7 L1087.2 709.5 L1088.0 710.3 L1088.0 711.5 L1088.8 710.0 L1089.1 709.6 L1089.6 710.4 L1090.1 706.7 L1090.4 708.0 L1091.0 707.3 L1091.2 706.3 L1092.0 703.1 L1092.0 700.0 L1092.8 702.1 L1093.0 700.1 L1093.6 693.5 L1093.8 690.7 L1094.4 691.8 L1094.4 686.7 L1095.2 689.8 L1095.2 692.2 L1096.0 694.6 L1096.0 692.1 L1096.8 695.7 L1096.9 698.8 L1097.6 699.1 L1097.7 700.1 L1098.4 705.3 L1098.5 706.3 L1099.2 710.6 L1099.6 710.9 L1100.0 710.4 L1100.6 714.4 L1100.8 713.9 L1101.5 709.5 L1101.6 710.2 L1102.4 710.1 L1102.5 709.6 L1103.2 715.0 L1103.2 715.4 L1104.0 719.5 L1104.2 720.3 L1104.8 722.2 L1105.1 723.7 L1105.6 723.8 L1106.1 722.7 L1106.4 723.0 L1107.2 724.2 L1107.2 723.9 L1108.0 722.7 L1108.2 723.2 L1108.8 723.9 L1109.4 724.4 L1109.6 725.0 L1110.3 726.8 L1110.4 727.1 L1111.2 728.5 L1111.4 728.2 L1112.0 727.1 L1112.4 727.3 L1112.8 724.4 L1113.5 720.1 L1113.6 720.0 L1114.4 715.6 L1114.4 715.7 L1115.2 714.4 L1115.3 716.0 L1116.0 716.8 L1116.4 718.6 L1116.8 719.5 L1117.3 721.6 L1117.6 721.2 L1118.2 723.0 L1118.4 724.0 L1119.2 720.6 L1119.2 721.1 L1120.0 720.4 L1120.3 718.6 L1120.8 713.6 L1121.0 712.6 L1121.6 711.2 L1121.6 711.5 L1122.3 718.4 L1122.4 719.3 L1123.2 722.6 L1123.2 723.7 L1124.0 722.1 L1124.0 720.8 L1124.8 726.8 L1124.8 726.7 L1125.6 728.8 L1125.8 729.0 L1126.4 729.7 L1127.1 730.6 L1127.2 730.6 L1128.0 730.3 L1128.4 730.3 L1128.8 730.1 L1129.6 730.1 L1129.8 729.1 L1130.4 727.6 L1131.1 727.7 L1131.2 727.2 L1132.0 727.9 L1132.4 728.4 L1132.8 729.3 L1133.6 728.6 L1133.7 729.0 L1134.4 729.9 L1135.0 730.5 L1135.2 730.7 L1136.0 731.3 L1136.3 731.5 L1136.8 731.3 L1137.6 731.1 L1138.3 730.8 L1138.4 730.8 L1139.2 730.3 L1139.6 729.9 L1140.0 729.6 L1140.8 729.7 L1141.3 728.9 L1141.6 729.6 L1142.4 730.8 L1142.6 731.2 L1143.2 731.3 L1144.0 731.3 L1144.8 731.4 L1145.5 731.5 L1145.6 731.5 L1146.4 731.4 L1147.2 731.3 L1148.0 731.2 L1148.1 731.2 L1148.8 731.3 L1149.6 731.3 L1150.4 731.4 L1151.2 731.4 L1152.0 731.5 L1152.1 731.5 L1152.8 731.5 L1153.6 731.5 L1154.4 731.5 L1155.2 731.5 L1156.0 731.5 L1156.0 731.5 L1156.8 731.2 L1157.6 731.0 L1157.6 731.0 L1158.4 729.6 L1158.6 729.2 L1159.2 729.8 L1159.9 730.6 L1160.0 730.6 L1160.8 730.8 L1161.6 730.9 L1161.9 731.0 L1162.4 730.9 L1163.2 730.6 L1163.9 730.6 L1164.0 730.5 L1164.8 730.5 L1165.6 730.4 L1165.8 730.3 L1166.4 730.4 L1167.2 730.7 L1167.8 731.0 L1168.0 730.8 L1168.8 730.2 L1169.1 729.9 L1169.6 729.5 L1169.9 729.4 L1170.4 730.0 L1171.1 731.2 L1171.2 731.2 L1172.0 731.3 L1172.8 731.4 L1173.6 731.5 L1173.7 731.5 L1174.4 731.4 L1175.2 731.3 L1175.7 731.2 L1176.0 730.0 L1176.7 726.6 L1176.8 726.8 L1177.6 724.9 L1177.7 724.1 L1178.4 727.3 L1178.6 727.3 L1179.2 725.7 L1179.6 725.5 L1180.0 724.5 L1180.5 723.5 L1180.8 724.7 L1181.6 726.6 L1181.6 726.2 L1182.4 726.0 L1182.6 725.4 L1183.2 724.7 L1183.8 725.9 L1184.0 724.6 L1184.8 724.8 L1184.9 723.7 L1185.6 722.9 L1185.9 723.1 L1186.4 724.0 L1187.0 724.7 L1187.2 724.1 L1188.0 727.6 L1188.2 727.1 L1188.8 728.3 L1189.5 729.2 L1189.6 729.2 L1190.4 729.8 L1190.8 729.9 L1191.2 729.6 L1192.0 729.3 L1192.1 729.3 L1192.8 724.7 L1193.1 724.4 L1193.6 722.8 L1194.1 722.3 L1194.4 724.9 L1195.0 726.7 L1195.2 726.8 L1196.0 725.9 L1196.0 725.3 L1196.7 721.4 L1196.8 721.3 L1197.3 720.7 L1197.6 722.7 L1198.0 726.5 L1198.4 727.3 L1199.0 729.9 L1199.2 730.0 L1200.0 730.7 L1200.6 731.2 L1200.8 731.1 L1201.6 730.8 L1202.4 730.7 L1202.6 730.6 L1203.2 730.6 L1204.0 730.8 L1204.6 730.8 L1204.8 730.8 L1205.6 730.7 L1206.4 730.5 L1206.5 730.6 L1207.2 729.9 L1207.8 729.2 L1208.0 729.9 L1208.8 730.6 L1208.8 730.6 L1209.6 731.2 L1210.1 731.5 L1210.4 731.3 L1211.2 730.9 L1211.8 730.6 L1212.0 729.7 L1212.8 727.4 L1212.8 726.8 L1213.5 721.9 L1213.6 722.8 L1214.1 726.7 L1214.4 726.6 L1215.2 727.3 L1215.3 727.2 L1216.0 726.7 L1216.6 726.2 L1216.8 726.2 L1217.6 725.8 L1218.0 725.2 L1218.4 725.7 L1219.2 726.1 L1219.3 726.0 L1220.0 725.4 L1220.6 724.3 L1220.8 723.8 L1221.6 725.7 L1221.9 725.7 L1222.4 726.7 L1223.2 727.3 L1223.2 726.8 L1224.0 725.5 L1224.5 726.0 L1224.8 726.0 L1225.6 723.8 L1225.6 723.0 L1226.4 726.2 L1226.6 727.3 L1227.2 726.8 L1227.9 726.6 L1228.0 726.0 L1228.8 726.8 L1229.2 725.5 L1229.6 725.8 L1230.0 723.9 L1230.4 721.4 L1230.7 718.9 L1231.2 711.4 L1231.6 708.8 L1232.0 706.8 L1232.6 699.4 L1232.8 695.2 L1233.4 690.0 L1233.6 694.5 L1234.2 702.1 L1234.4 703.0 L1235.0 708.9 L1235.2 705.2 L1235.9 705.8 L1236.0 705.4 L1236.8 703.6 L1236.8 701.6 L1237.6 707.8 L1237.6 708.2 L1238.4 708.5 L1238.5 709.3 L1239.2 706.2 L1239.5 708.0 L1240.0 704.3 L1240.5 702.1 L1240.8 700.8 L1241.3 691.9 L1241.6 691.1 L1242.1 687.4 L1242.4 688.4 L1242.9 696.1 L1243.2 693.7 L1243.7 698.3 L1244.0 693.2 L1244.4 694.1 L1244.8 696.8 L1245.2 701.8 L1245.6 704.5 L1246.0 705.7 L1246.4 705.5 L1247.1 702.4 L1247.2 700.0 L1248.0 701.4 L1248.1 700.1 L1248.8 703.0 L1249.0 703.7 L1249.6 708.0 L1250.0 706.9 L1250.4 703.8 L1251.0 706.1 L1251.2 706.3 L1252.0 708.8 L1252.0 708.6 L1252.8 712.1 L1253.1 713.4 L1253.6 716.0 L1254.3 715.3 L1254.4 714.6 L1255.2 714.0 L1255.6 714.1 L1256.0 709.7 L1256.6 705.7 L1256.8 704.8 L1257.6 702.2 L1257.6 702.3 L1258.4 699.9 L1258.5 701.3 L1259.2 705.0 L1259.4 705.9 L1260.0 702.7 L1260.2 702.4 L1260.8 701.2 L1261.1 701.4 L1261.6 704.3 L1262.0 704.5 L1262.4 700.6 L1262.8 697.7 L1263.2 691.8 L1263.5 684.5 L1264.0 685.8 L1264.1 680.9 L1264.8 679.2 L1264.9 682.4 L1265.6 686.7 L1265.7 683.2 L1266.4 694.2 L1266.5 692.9 L1267.2 699.3 L1267.4 700.8 L1268.0 707.7 L1268.3 707.0 L1268.8 707.8 L1269.4 708.7 L1269.6 707.4 L1270.4 706.0 L1270.7 707.7 L1271.2 705.4 L1272.0 707.5 L1272.0 708.1 L1272.8 710.1 L1273.3 711.3 L1273.6 710.1 L1274.4 711.6 L1274.6 710.4 L1275.2 715.4 L1275.5 716.6 L1276.0 716.8 L1276.6 721.4 L1276.8 721.3 L1277.5 724.9 L1277.6 724.2 L1278.4 725.2 L1278.6 726.1 L1279.2 726.6 L1279.9 725.4 L1280.0 725.5 L1280.8 725.7 L1281.2 726.6 L1281.6 726.9 L1282.4 725.4 L1282.5 724.6 L1283.2 726.0 L1283.8 727.7 L1284.0 728.0 L1284.8 727.4 L1285.1 727.0 L1285.6 726.3 L1286.4 725.4 L1286.4 725.7 L1287.2 724.6 L1287.4 725.5 L1288.0 727.5 L1288.4 729.3 L1288.8 729.8 L1289.6 731.0 L1289.7 731.2 L1290.4 731.1 L1291.2 731.0 L1292.0 730.8 L1292.3 730.8 L1292.8 730.9 L1293.6 731.0 L1294.4 731.1 L1295.2 731.2 L1295.6 731.2 L1296.0 731.3 L1296.8 731.3 L1297.6 731.4 L1298.4 731.4 L1299.2 731.5 L1299.6 731.5 L1300.0 731.5 L1300.8 731.4 L1301.6 731.3 L1302.4 731.3 L1303.2 731.2 L1303.5 731.2 L1304.0 731.2 L1304.8 731.1 L1305.5 731.0 L1305.6 730.9 L1306.4 730.4 L1307.2 730.0 L1307.4 729.9 L1308.0 730.2 L1308.8 730.3 L1309.4 730.6 L1309.6 730.5 L1310.4 730.0 L1310.7 729.9 L1311.2 729.4 L1311.6 727.5 L1312.0 729.4 L1312.4 730.6 L1312.8 730.6 L1313.6 730.9 L1314.0 731.0 L1314.4 731.1 L1315.2 731.3 L1316.0 731.5 L1316.0 731.5 L1316.8 731.0 L1317.6 730.4 L1317.7 730.3 L1318.4 730.5 L1319.2 730.8 L1319.2 730.8 L1320.0 730.4 L1320.8 729.8 L1320.8 729.9 L1321.6 730.2 L1322.4 730.3 L1322.5 730.3 L1323.2 729.8 L1323.8 729.3 L1324.0 727.8 L1324.8 725.2 L1324.8 725.5 L1325.5 725.7 L1325.6 726.3 L1326.3 730.6 L1326.4 730.6 L1327.2 730.9 L1328.0 731.1 L1328.4 731.2 L1328.8 731.2 L1329.6 731.0 L1330.4 730.9 L1331.1 730.8 L1331.2 730.8 L1332.0 731.0 L1332.8 731.1 L1333.6 731.2 L1333.7 731.2 L1334.4 731.3 L1335.2 731.3 L1336.0 731.4 L1336.8 731.4 L1337.6 731.5 L1337.6 731.5 L1338.4 731.4 L1339.2 731.4 L1340.0 731.3 L1340.8 731.3 L1341.6 731.2 L1341.6 731.2 L1342.4 731.2 L1343.2 731.1 L1344.0 731.0 L1344.8 731.0 L1345.5 731.0 L1345.6 731.0 L1346.4 730.8 L1347.2 730.7 L1348.0 730.7 L1348.8 730.6 L1348.8 730.6 L1349.6 730.7 L1350.4 730.9 L1350.5 730.9 L1351.2 730.1 L1351.4 729.9 L1352.0 730.6 L1352.7 731.2 L1352.8 731.2 L1353.6 731.1 L1354.4 730.9 L1355.2 730.8 L1355.3 730.8 L1356.0 730.1 L1356.7 729.3 L1356.8 729.6 L1357.6 728.0 L1358.0 728.5 L1358.4 729.7 L1359.2 729.9 L1359.3 729.5 L1360.0 729.8 L1360.6 729.3 L1360.8 729.9 L1361.6 730.3 L1361.9 730.5 L1362.4 730.7 L1363.2 731.0 L1363.9 731.2 L1364.0 731.2 L1364.8 731.3 L1365.6 731.4 L1366.4 731.5 L1366.5 731.5 L1367.2 731.2 L1368.0 731.0 L1368.8 730.7 L1369.1 730.6 L1369.6 730.2 L1370.4 729.7 L1371.1 729.3 L1371.2 729.3 L1372.0 729.6 L1372.4 728.7 L1372.8 728.8 L1373.6 729.8 L1373.7 729.2 L1374.4 727.8 L1375.0 727.2 L1375.2 727.7 L1376.0 725.5 L1376.3 725.5 L1376.8 726.8 L1377.3 727.2 L1377.6 726.7 L1378.3 725.1 L1378.4 725.5 L1379.2 724.9 L1379.6 724.5 L1380.0 723.3 L1380.8 723.5 L1380.9 724.1 L1381.6 725.7 L1382.2 725.8 L1382.4 724.9 L1383.2 725.5 L1383.6 725.1 L1384.0 725.1 L1384.8 726.1 L1384.9 726.8 L1385.6 727.6 L1386.2 727.0 L1386.4 726.6 L1387.2 726.4 L1387.5 726.6 L1388.0 727.9 L1388.8 728.1 L1388.8 727.8 L1389.6 729.4 L1390.1 729.9 L1390.4 729.9 L1391.2 730.2 L1392.0 730.3 L1392.1 730.3 L1392.8 730.4 L1393.6 730.5 L1394.1 730.6 L1394.4 730.5 L1395.2 730.7 L1396.0 730.8 L1396.0 730.8 L1396.8 730.3 L1397.6 729.5 L1398.0 729.4 L1398.4 728.3 L1399.2 727.0 L1399.3 727.3 L1400.0 726.3 L1400.6 726.3 L1400.8 726.9 L1401.6 726.2 L1401.7 725.3 L1402.4 725.6 L1402.7 725.8 L1403.2 726.6 L1403.9 728.2 L1404.0 728.0 L1404.8 729.8 L1405.2 730.6 L1405.6 730.8 L1406.4 731.1 L1407.2 731.5 L1407.2 731.5 L1408.0 731.5 L1408.8 731.5 L1409.6 731.5 L1410.4 731.5 L1410.5 731.5 L1411.2 731.4 L1412.0 731.3 L1412.4 731.2 L1412.8 727.7 L1413.2 725.3 L1413.6 725.2 L1414.0 724.2 L1414.4 724.5 L1414.8 726.0 L1415.2 726.3 L1415.7 725.2 L1416.0 724.5 L1416.6 723.9 L1416.8 722.8 L1417.6 719.4 L1417.7 718.6 L1418.4 714.9 L1418.6 715.4 L1419.2 718.4 L1419.4 720.2 L1420.0 719.1 L1420.3 718.4 L1420.8 718.8 L1421.4 721.8 L1421.6 720.8 L1422.4 719.5 L1422.4 721.2 L1423.2 719.9 L1423.5 721.7 L1424.0 724.6 L1424.5 725.3 L1424.8 725.5 L1425.6 726.8 L1425.6 726.3 L1426.4 729.2 L1426.6 729.4 L1427.2 727.7 L1427.5 728.1 L1428.0 725.0 L1428.5 722.1 L1428.8 723.1 L1429.2 721.2 L1429.2 731.5 Z" fill="#f7931a" fill-opacity="0.8"/>
<path d="M170.4 638.2 L171.2 640.9 L171.6 643.8 L172.0 634.0 L172.8 636.9 L173.0 635.4 L173.6 627.8 L174.4 627.1 L174.4 626.4 L175.2 618.0 L176.0 618.9 L176.0 614.7 L176.8 628.5 L177.6 626.7 L177.6 621.4 L178.4 608.5 L178.5 614.5 L179.2 614.4 L179.4 601.1 L180.0 615.5 L180.6 627.9 L180.8 629.4 L181.6 641.1 L182.0 642.4 L182.4 649.5 L183.2 654.3 L183.6 656.5 L184.0 657.8 L184.8 666.9 L185.0 672.7 L185.6 678.2 L186.4 683.8 L186.4 683.8 L187.2 686.8 L188.0 690.3 L188.0 688.5 L188.8 687.5 L189.6 685.7 L190.0 678.9 L190.4 683.8 L191.2 677.8 L191.6 674.9 L192.0 678.9 L192.8 690.3 L193.0 692.7 L193.6 694.7 L194.4 701.8 L194.4 701.9 L195.2 702.3 L196.0 707.3 L196.0 709.3 L196.8 707.8 L197.6 706.3 L198.0 704.5 L198.4 708.0 L199.2 709.0 L199.6 711.5 L200.0 709.5 L200.8 708.4 L201.0 708.5 L201.6 705.9 L202.4 707.3 L202.6 705.0 L203.2 709.0 L204.0 714.6 L204.0 712.5 L204.8 714.9 L205.6 718.8 L206.0 717.7 L206.4 716.6 L207.2 716.2 L208.0 713.2 L208.0 713.4 L208.8 715.4 L209.6 716.6 L210.0 715.9 L210.4 714.9 L211.2 713.2 L212.0 711.8 L212.4 712.4 L212.8 714.0 L213.6 714.2 L214.4 718.1 L214.4 719.5 L215.2 718.8 L216.0 721.4 L216.4 721.2 L216.8 722.5 L217.6 721.2 L218.0 722.0 L218.4 715.9 L219.2 706.0 L219.4 704.3 L220.0 703.5 L220.8 706.8 L221.0 705.5 L221.6 706.9 L222.4 701.3 L223.0 702.7 L223.2 704.6 L224.0 711.8 L224.4 713.9 L224.8 712.8 L225.6 715.1 L226.4 717.1 L226.4 717.5 L227.2 716.0 L228.0 714.6 L228.0 716.0 L228.8 699.0 L229.0 696.6 L229.6 686.4 L230.0 685.1 L230.4 689.8 L230.9 689.0 L231.2 691.5 L231.6 692.4 L232.0 691.8 L232.8 690.9 L233.0 689.5 L233.6 689.2 L234.4 692.1 L234.4 692.6 L235.2 694.3 L236.0 687.9 L236.0 687.9 L236.8 697.0 L237.0 700.2 L237.6 707.2 L238.4 712.0 L238.4 711.3 L239.2 714.9 L240.0 718.0 L240.0 717.3 L240.8 720.3 L241.6 723.3 L241.6 723.9 L242.4 724.6 L243.2 725.7 L243.6 726.9 L244.0 726.4 L244.8 728.1 L245.6 728.6 L246.0 728.9 L246.4 728.4 L247.2 729.5 L248.0 730.0 L248.8 730.3 L249.0 730.4 L249.6 730.7 L250.4 730.9 L251.2 731.1 L252.0 731.4 L252.0 731.4 L252.8 731.2 L253.6 731.0 L254.4 730.8 L255.2 730.6 L256.0 730.4 L256.0 730.3 L256.8 730.3 L257.6 730.3 L258.4 730.2 L259.2 730.1 L260.0 730.0 L260.0 730.1 L260.8 730.2 L261.6 730.3 L262.4 730.2 L263.2 730.3 L264.0 730.4 L264.0 730.4 L264.8 730.5 L265.6 730.6 L266.4 730.7 L267.2 730.9 L268.0 731.0 L268.0 731.0 L268.8 730.8 L269.6 730.8 L270.4 730.6 L271.2 730.6 L272.0 730.4 L272.0 730.4 L272.8 728.8 L273.6 726.9 L274.0 726.8 L274.4 725.3 L275.2 724.0 L276.0 719.7 L276.0 719.2 L276.8 721.2 L277.6 722.4 L278.0 723.7 L278.4 722.6 L279.2 721.1 L279.6 720.0 L280.0 722.1 L280.8 722.0 L281.4 723.0 L281.6 722.8 L282.1 720.1 L282.4 717.4 L283.0 716.0 L283.2 717.8 L283.9 719.0 L284.0 718.2 L284.6 721.7 L284.8 721.5 L285.6 721.9 L286.4 723.9 L286.4 724.6 L287.2 719.7 L288.0 712.2 L288.0 710.9 L288.8 693.5 L289.0 686.4 L289.6 690.9 L289.9 692.1 L290.4 697.0 L290.4 699.2 L291.1 694.4 L291.2 692.8 L292.0 692.3 L292.0 692.0 L292.8 698.1 L292.9 695.4 L293.6 700.3 L293.6 700.9 L294.4 692.9 L295.0 690.3 L295.2 687.9 L296.0 689.9 L296.4 688.1 L296.8 687.9 L297.6 692.3 L298.0 693.7 L298.4 691.3 L299.2 689.7 L299.6 686.0 L300.0 690.3 L300.8 689.0 L301.2 687.9 L301.6 692.2 L302.4 697.0 L302.6 697.7 L303.2 698.6 L304.0 704.4 L304.0 703.3 L304.8 707.6 L305.6 709.8 L305.6 709.2 L306.4 710.0 L307.0 712.3 L307.2 712.6 L308.0 703.9 L308.4 700.5 L308.8 698.4 L309.6 694.4 L310.0 692.9 L310.4 696.4 L311.2 697.6 L311.6 696.6 L312.0 692.7 L312.8 691.4 L313.0 690.0 L313.6 688.2 L314.4 679.4 L314.4 680.1 L315.2 668.7 L315.6 662.2 L316.0 660.1 L316.8 654.8 L317.0 655.6 L317.6 661.0 L318.4 653.2 L318.6 650.3 L319.2 653.7 L320.0 667.2 L320.0 662.4 L320.8 669.6 L321.6 670.7 L321.6 672.8 L322.4 675.8 L323.0 675.3 L323.2 675.2 L324.0 673.4 L324.4 665.8 L324.8 666.3 L325.6 670.4 L326.0 664.2 L326.4 662.6 L327.2 639.3 L327.2 646.2 L328.0 610.9 L328.2 600.8 L328.7 588.9 L328.8 603.0 L329.6 580.8 L329.6 576.0 L330.4 611.8 L330.6 615.9 L331.2 617.4 L332.0 620.0 L332.0 610.8 L332.8 627.9 L333.6 629.6 L333.6 630.3 L334.4 638.8 L335.0 637.2 L335.2 634.7 L336.0 631.1 L336.4 628.8 L336.8 622.6 L337.6 627.2 L337.6 627.1 L338.4 637.5 L339.0 644.4 L339.2 647.4 L340.0 668.8 L340.4 672.6 L340.8 671.0 L341.6 683.7 L342.0 687.3 L342.4 688.7 L343.2 682.5 L343.6 680.5 L344.0 679.8 L344.8 678.4 L345.0 673.9 L345.6 669.8 L346.4 675.0 L346.4 673.6 L347.2 680.3 L347.6 686.8 L348.0 687.0 L348.8 673.0 L349.0 672.5 L349.6 666.0 L350.4 661.9 L350.4 659.7 L351.2 654.1 L351.6 642.9 L352.0 646.6 L352.8 640.5 L353.0 628.9 L353.6 614.9 L354.2 606.8 L354.4 614.2 L355.2 634.7 L355.4 647.2 L356.0 643.6 L356.8 644.2 L357.0 641.9 L357.6 651.2 L358.4 671.1 L358.4 673.9 L359.2 680.3 L359.6 687.5 L360.0 681.8 L360.8 665.5 L361.0 659.6 L361.6 649.0 L362.4 650.2 L362.4 648.3 L363.2 644.4 L363.6 643.0 L364.0 644.8 L364.5 647.2 L364.8 650.7 L365.0 656.0 L365.6 649.9 L366.4 650.2 L366.4 657.9 L367.2 651.3 L368.0 648.7 L368.0 653.7 L368.8 650.4 L369.6 655.4 L369.6 658.4 L370.4 664.5 L371.0 668.8 L371.2 665.9 L372.0 667.7 L372.4 673.9 L372.8 668.8 L373.6 677.1 L374.0 673.6 L374.4 673.0 L375.2 678.4 L375.6 682.6 L376.0 684.5 L376.8 685.9 L377.0 688.2 L377.6 691.6 L378.4 694.5 L378.4 696.4 L379.2 699.4 L380.0 704.2 L380.0 705.8 L380.8 707.5 L381.6 708.3 L381.6 707.8 L382.1 702.4 L382.4 700.3 L383.0 695.3 L383.2 698.6 L383.9 700.1 L384.0 701.4 L384.4 703.8 L384.8 701.5 L385.6 699.1 L386.0 700.6 L386.4 698.5 L387.2 692.4 L387.6 690.9 L388.0 686.1 L388.8 680.9 L389.0 684.9 L389.6 678.7 L390.4 675.3 L390.4 671.9 L391.2 662.3 L391.6 663.4 L392.0 666.2 L392.5 665.1 L392.8 670.8 L393.0 668.8 L393.6 663.0 L394.4 665.2 L394.4 660.3 L395.2 666.6 L396.0 672.5 L396.0 670.6 L396.8 660.6 L397.0 658.3 L397.6 666.7 L397.9 669.7 L398.4 680.8 L398.4 675.3 L399.2 666.7 L400.0 663.2 L400.0 661.7 L400.8 655.5 L401.6 658.4 L401.6 661.5 L402.1 656.4 L402.4 650.8 L403.0 652.1 L403.2 655.1 L403.9 656.2 L404.0 661.7 L404.4 658.2 L404.8 656.0 L405.6 647.9 L405.6 652.2 L406.4 654.9 L406.5 652.7 L407.0 657.2 L407.2 649.7 L407.5 651.7 L408.0 644.0 L408.4 650.1 L408.8 658.9 L409.6 663.8 L409.6 662.5 L410.4 641.3 L410.6 638.5 L411.2 623.5 L411.6 615.2 L412.0 606.0 L412.6 591.3 L412.8 585.0 L413.6 562.3 L413.6 561.1 L414.4 557.2 L415.0 540.5 L415.2 520.1 L415.7 487.6 L416.0 506.6 L416.5 536.2 L416.8 527.9 L417.6 540.6 L418.0 536.7 L418.4 532.0 L419.2 540.2 L420.0 539.3 L420.0 545.7 L420.8 536.4 L421.6 527.9 L422.0 537.3 L422.4 540.7 L423.2 544.6 L424.0 541.6 L424.0 539.9 L424.8 539.8 L425.6 536.8 L426.0 534.3 L426.4 534.3 L427.2 541.1 L428.0 546.1 L428.0 543.0 L428.8 558.3 L429.6 538.5 L430.0 550.3 L430.4 563.1 L431.2 552.6 L432.0 556.7 L432.0 542.2 L432.8 551.2 L433.6 545.4 L434.0 550.5 L434.4 544.8 L435.2 560.2 L436.0 550.3 L436.0 563.6 L436.8 556.0 L437.6 553.3 L438.0 551.2 L438.4 546.9 L439.2 559.7 L440.0 553.0 L440.0 558.6 L440.7 537.9 L440.8 481.2 L441.0 378.8 L441.6 355.4 L441.6 341.0 L442.4 328.1 L442.6 324.9 L443.2 336.0 L443.6 335.9 L444.0 332.9 L444.4 326.2 L444.8 324.1 L445.0 319.5 L445.6 249.8 L445.6 245.8 L446.0 225.4 L446.4 251.3 L446.4 242.8 L447.0 321.7 L447.2 335.2 L447.6 329.9 L448.0 343.4 L448.4 336.3 L448.8 342.1 L449.2 329.7 L449.6 331.5 L450.0 351.1 L450.4 373.7 L451.2 371.5 L451.6 390.3 L452.0 372.8 L452.8 357.8 L453.0 359.7 L453.6 347.6 L454.0 340.6 L454.4 335.5 L454.8 305.8 L455.2 289.7 L455.4 295.6 L456.0 312.2 L456.4 305.6 L456.8 302.1 L457.4 305.2 L457.6 315.7 L458.4 313.0 L458.4 307.3 L459.2 321.3 L459.4 324.0 L460.0 347.7 L460.4 342.9 L460.8 345.3 L461.4 364.3 L461.6 379.6 L462.4 412.3 L462.4 416.3 L463.2 385.9 L463.6 360.0 L464.0 353.2 L464.6 335.0 L464.8 340.0 L465.6 322.9 L465.6 322.0 L466.4 346.3 L466.4 343.6 L467.2 371.1 L467.2 379.4 L468.0 380.1 L468.0 381.0 L468.8 378.3 L469.0 385.6 L469.6 405.7 L470.4 412.7 L471.0 412.8 L471.2 422.7 L472.0 430.2 L472.4 439.4 L472.8 438.0 L473.6 435.3 L474.0 429.6 L474.4 418.5 L475.1 413.4 L475.2 412.9 L476.0 393.6 L476.0 395.0 L476.8 422.3 L477.0 421.7 L477.6 440.6 L478.0 446.8 L478.4 457.8 L479.0 481.9 L479.2 485.5 L480.0 490.3 L480.0 494.9 L480.8 479.1 L481.0 465.8 L481.6 454.7 L482.0 455.5 L482.4 460.9 L482.5 452.2 L483.2 459.9 L483.4 446.8 L484.0 464.3 L484.4 461.9 L484.8 471.6 L485.6 472.8 L486.0 464.2 L486.4 463.1 L486.7 459.8 L487.2 465.5 L487.6 456.2 L488.0 473.9 L488.5 471.1 L488.8 463.6 L489.0 476.3 L489.6 484.9 L490.0 488.3 L490.4 493.6 L491.0 504.6 L491.2 499.8 L492.0 488.8 L492.0 500.2 L492.8 481.4 L493.0 479.7 L493.6 446.5 L494.0 441.6 L494.4 420.6 L495.0 410.6 L495.2 399.4 L496.0 400.2 L496.0 410.4 L496.8 398.7 L496.9 403.8 L497.6 407.4 L497.6 406.2 L498.4 419.1 L499.0 418.4 L499.2 416.1 L500.0 432.4 L500.0 426.0 L500.8 408.0 L501.0 400.8 L501.6 383.4 L501.6 384.7 L502.0 362.6 L502.4 357.3 L503.0 361.4 L503.2 368.6 L504.0 365.5 L504.4 365.5 L504.8 372.3 L505.6 363.2 L505.6 365.9 L506.4 370.2 L507.0 372.0 L507.2 377.0 L508.0 369.6 L508.0 368.4 L508.8 346.9 L509.0 340.2 L509.6 336.9 L510.0 325.0 L510.4 327.3 L511.0 342.4 L511.2 350.6 L512.0 378.9 L512.0 367.5 L512.8 418.0 L513.6 434.5 L514.0 458.7 L514.4 444.8 L515.2 424.1 L516.0 395.5 L516.4 380.6 L516.8 375.1 L517.6 366.2 L517.6 376.5 L518.4 361.6 L518.6 352.9 L519.2 340.3 L519.6 322.8 L520.0 341.7 L520.6 337.8 L520.8 336.0 L521.6 325.4 L521.6 328.1 L522.4 332.4 L522.6 345.8 L523.2 332.6 L523.6 338.7 L524.0 353.1 L524.6 347.4 L524.8 353.5 L525.6 343.7 L525.6 345.2 L526.4 338.0 L526.8 335.7 L527.2 339.7 L528.0 348.3 L528.0 348.1 L528.8 349.1 L529.0 362.4 L529.6 365.0 L530.0 355.8 L530.4 352.4 L531.0 360.0 L531.2 357.9 L532.0 362.2 L532.4 381.3 L532.8 397.0 L533.0 400.7 L533.6 390.0 L534.0 383.7 L534.4 387.1 L535.0 370.6 L535.2 356.1 L536.0 358.0 L536.4 356.3 L536.8 367.3 L537.6 356.5 L537.6 368.2 L538.4 336.2 L538.8 332.5 L539.2 333.5 L539.6 358.2 L540.0 360.9 L540.8 373.7 L541.0 366.2 L541.6 358.3 L542.4 365.7 L542.4 364.9 L543.2 366.7 L543.6 367.2 L544.0 361.6 L544.8 361.9 L545.0 363.7 L545.6 348.4 L545.8 353.0 L546.4 357.0 L546.8 369.7 L547.2 374.5 L548.0 372.6 L548.0 370.0 L548.8 373.0 L549.2 376.7 L549.6 382.7 L550.0 399.5 L550.4 405.3 L551.0 425.7 L551.2 413.8 L551.5 420.5 L552.0 427.9 L552.4 409.2 L552.8 409.9 L553.6 422.3 L553.6 432.5 L554.4 415.0 L555.0 406.6 L555.2 412.3 L556.0 405.9 L556.0 413.9 L556.8 429.5 L557.0 443.5 L557.6 442.2 L558.0 426.8 L558.4 401.6 L559.0 390.0 L559.2 387.0 L559.6 379.7 L560.0 339.4 L560.0 342.6 L560.6 281.5 L560.8 266.3 L561.2 217.4 L561.6 248.7 L562.0 266.9 L562.4 264.2 L563.0 256.3 L563.2 252.2 L563.6 240.0 L564.0 226.6 L564.2 226.8 L564.8 238.4 L565.0 253.7 L565.6 262.0 L566.0 263.9 L566.4 267.3 L567.0 271.7 L567.2 279.5 L568.0 284.0 L568.0 289.8 L568.8 287.0 L569.0 273.0 L569.6 254.6 L570.0 253.9 L570.4 236.5 L570.8 231.9 L571.2 258.0 L571.6 259.9 L572.0 270.1 L572.4 273.5 L572.8 278.3 L573.2 287.7 L573.6 289.3 L574.2 280.3 L574.4 273.6 L575.2 274.1 L575.2 272.1 L575.8 270.1 L576.0 263.8 L576.6 280.0 L576.8 283.7 L577.4 299.3 L577.6 307.0 L578.4 306.3 L578.4 305.5 L579.2 303.4 L579.6 309.6 L580.0 309.6 L580.8 313.9 L580.8 303.5 L581.6 317.5 L582.0 311.9 L582.4 313.6 L583.2 309.8 L583.2 306.3 L584.0 316.3 L584.0 324.4 L584.8 323.6 L585.0 327.3 L585.6 328.7 L586.0 331.4 L586.4 326.1 L587.0 321.6 L587.2 322.2 L588.0 332.2 L588.0 332.8 L588.6 352.3 L588.8 364.2 L589.2 375.4 L589.6 357.5 L589.8 341.3 L590.4 304.7 L590.4 317.6 L591.2 311.3 L591.6 308.3 L592.0 316.4 L592.4 304.0 L592.8 302.1 L593.2 297.5 L593.6 308.1 L594.0 317.5 L594.4 308.7 L595.2 311.6 L595.2 311.5 L596.0 320.2 L596.4 321.3 L596.8 312.6 L597.6 316.3 L597.6 329.5 L598.4 315.1 L599.0 316.3 L599.2 316.3 L600.0 309.4 L600.2 311.8 L600.8 297.8 L601.4 310.1 L601.6 305.1 L602.4 309.4 L602.6 311.0 L603.2 303.9 L604.0 314.9 L604.0 311.7 L604.8 316.0 L605.4 322.3 L605.6 322.7 L606.4 337.5 L606.8 328.9 L607.2 324.7 L608.0 335.7 L608.0 330.1 L608.8 334.8 L609.2 345.1 L609.6 346.4 L610.4 350.2 L610.4 339.5 L611.2 367.7 L611.2 366.5 L611.8 376.9 L612.0 388.5 L612.4 410.8 L612.8 425.3 L613.2 438.9 L613.6 462.5 L614.0 462.3 L614.4 464.0 L615.0 468.7 L615.2 468.8 L616.0 462.5 L616.0 466.0 L616.8 452.0 L617.0 464.5 L617.6 471.9 L618.0 483.7 L618.4 496.7 L619.0 510.6 L619.2 512.9 L620.0 513.3 L620.0 512.6 L620.8 522.5 L621.6 509.7 L621.6 507.5 L622.4 517.9 L623.0 518.3 L623.2 526.4 L624.0 508.4 L624.4 520.2 L624.8 524.0 L625.1 516.8 L625.6 523.3 L626.0 511.3 L626.4 513.7 L626.9 522.3 L627.2 527.1 L627.6 525.5 L628.0 532.6 L628.8 532.2 L629.0 533.6 L629.6 525.3 L630.4 518.6 L630.4 532.5 L631.2 515.1 L632.0 517.8 L632.0 519.4 L632.8 514.7 L633.6 510.1 L633.6 517.3 L634.4 511.3 L635.0 493.9 L635.2 492.8 L636.0 484.2 L636.4 495.2 L636.8 498.9 L637.6 492.0 L637.6 488.1 L638.4 494.4 L639.0 503.2 L639.2 513.0 L640.0 528.8 L640.0 542.5 L640.8 543.3 L641.0 548.5 L641.6 545.0 L642.4 559.5 L643.0 557.7 L643.2 547.3 L644.0 540.7 L644.8 526.8 L645.0 533.3 L645.6 539.7 L646.1 527.5 L646.4 525.8 L647.0 519.0 L647.2 520.0 L647.9 526.5 L648.0 524.1 L648.4 526.2 L648.8 524.7 L649.6 525.1 L650.0 529.0 L650.4 523.4 L651.2 504.5 L651.6 513.2 L652.0 498.1 L652.8 516.9 L653.0 513.6 L653.6 504.2 L654.4 507.6 L654.4 508.4 L655.2 508.5 L655.6 493.3 L656.0 488.6 L656.6 474.7 L656.8 458.7 L657.4 448.7 L657.6 459.0 L658.2 460.3 L658.4 480.2 L659.2 487.4 L659.2 485.4 L660.0 541.3 L660.0 545.1 L660.8 535.5 L661.0 549.1 L661.6 564.0 L662.0 572.9 L662.4 577.5 L663.2 592.8 L664.0 582.4 L664.0 577.2 L664.8 584.1 L665.6 600.0 L666.0 595.0 L666.4 595.3 L667.2 587.8 L668.0 590.5 L668.0 598.6 L668.8 592.9 L669.6 596.4 L670.0 604.4 L670.4 596.8 L670.7 592.7 L671.2 602.6 L671.6 590.1 L672.0 588.1 L672.5 596.0 L672.8 600.2 L673.0 601.6 L673.6 606.3 L674.4 615.5 L675.0 615.4 L675.2 605.0 L676.0 610.4 L676.8 609.6 L677.6 611.9 L678.0 613.3 L678.4 621.7 L679.2 615.0 L680.0 616.1 L680.0 618.2 L680.8 618.1 L681.6 635.0 L682.4 630.1 L682.4 630.3 L683.2 635.4 L684.0 635.0 L684.8 638.7 L685.0 641.7 L685.6 640.9 L686.4 643.3 L687.0 636.1 L687.2 639.6 L688.0 633.3 L688.8 632.7 L689.0 625.8 L689.6 623.1 L690.4 611.7 L691.2 607.3 L691.6 604.9 L692.0 603.1 L692.8 599.1 L693.6 610.8 L694.0 608.3 L694.4 610.0 L695.2 626.2 L696.0 631.1 L696.0 625.3 L696.8 621.4 L697.6 624.6 L698.1 621.1 L698.4 615.3 L699.0 614.7 L699.2 611.5 L699.9 620.5 L700.0 628.1 L700.8 619.3 L701.6 627.0 L702.0 628.4 L702.4 632.7 L703.2 621.5 L704.0 618.9 L704.8 616.8 L705.0 612.9 L705.6 610.2 L706.4 594.7 L707.1 600.7 L707.2 594.5 L708.0 590.2 L708.0 588.5 L708.8 604.4 L708.9 594.4 L709.6 591.7 L710.0 602.4 L710.4 596.8 L711.2 605.3 L712.0 605.8 L712.1 601.0 L712.8 587.8 L713.0 595.9 L713.6 605.4 L713.9 601.9 L714.4 609.6 L715.2 601.5 L716.0 598.7 L716.0 595.0 L716.8 587.8 L717.1 594.4 L717.6 590.9 L718.0 590.7 L718.4 596.4 L718.9 600.5 L719.2 598.4 L720.0 596.5 L720.8 610.8 L721.0 607.7 L721.6 596.2 L722.4 596.0 L723.0 596.6 L723.2 591.4 L724.0 598.8 L724.8 607.3 L725.6 598.3 L726.0 600.2 L726.4 591.0 L727.2 581.9 L728.0 580.8 L728.0 574.0 L728.8 582.9 L729.6 584.4 L730.4 592.3 L731.0 586.5 L731.2 594.5 L732.0 574.9 L732.8 578.0 L733.0 577.7 L733.5 576.2 L733.6 571.7 L734.4 570.0 L734.4 568.3 L735.2 578.9 L735.3 577.6 L736.0 589.0 L736.0 584.2 L736.8 583.7 L737.6 593.2 L738.0 601.0 L738.4 598.7 L739.2 628.7 L739.6 630.5 L740.0 638.3 L740.0 631.1 L740.8 645.5 L741.6 650.9 L742.0 648.2 L742.4 650.2 L743.2 643.5 L744.0 642.1 L744.0 648.3 L744.8 642.6 L745.6 638.3 L746.0 640.4 L746.4 648.7 L747.2 638.4 L748.0 643.5 L748.8 647.3 L749.0 647.0 L749.6 647.4 L750.4 650.9 L751.2 646.9 L752.0 641.0 L752.0 649.0 L752.8 650.7 L753.6 650.4 L754.4 645.9 L755.0 647.6 L755.2 640.2 L756.0 650.8 L756.8 652.2 L757.6 652.1 L757.6 652.4 L758.4 641.5 L759.2 639.6 L760.0 641.1 L760.0 648.3 L760.8 634.8 L761.6 639.1 L762.4 636.6 L763.0 639.5 L763.2 638.5 L764.0 631.6 L764.8 639.7 L765.0 640.4 L765.6 642.8 L766.1 635.2 L766.4 634.6 L767.0 634.5 L767.2 634.2 L767.9 637.0 L768.0 634.2 L768.8 644.8 L769.6 631.4 L770.0 636.6 L770.4 637.4 L771.1 635.4 L771.2 640.8 L772.0 633.9 L772.0 638.1 L772.8 633.2 L772.9 635.5 L773.6 638.7 L774.4 629.3 L775.0 639.1 L775.2 632.9 L776.0 638.2 L776.1 638.0 L776.8 638.7 L777.0 632.6 L777.6 631.0 L777.9 635.8 L778.4 641.6 L779.0 641.1 L779.2 649.1 L780.0 642.4 L780.8 640.2 L781.6 637.2 L782.0 640.6 L782.4 643.3 L783.2 641.7 L784.0 632.2 L784.4 634.7 L784.8 627.3 L785.6 609.8 L785.6 608.2 L786.4 584.3 L786.4 594.2 L787.2 589.1 L787.3 592.9 L788.0 591.7 L788.0 580.3 L788.8 581.4 L789.6 584.4 L789.6 588.3 L790.4 577.8 L791.2 583.7 L791.6 589.3 L792.0 594.2 L792.8 587.9 L793.6 595.7 L793.6 597.9 L794.4 610.5 L795.0 620.1 L795.2 619.6 L796.0 611.2 L796.4 601.2 L796.8 603.5 L797.6 586.6 L797.6 595.6 L798.4 599.1 L798.5 591.3 L799.2 579.9 L799.6 593.3 L800.0 590.2 L800.8 586.8 L801.0 587.5 L801.6 579.7 L802.4 589.2 L803.2 586.3 L803.6 592.0 L804.0 587.4 L804.7 582.5 L804.8 578.9 L805.6 575.8 L805.6 575.5 L806.4 578.0 L806.5 589.6 L807.0 596.7 L807.2 591.9 L808.0 600.9 L808.8 605.2 L809.6 603.5 L809.6 612.2 L810.4 611.1 L811.2 609.6 L812.0 611.3 L812.0 610.9 L812.8 606.9 L813.6 599.7 L814.4 604.7 L814.4 607.0 L815.2 595.1 L815.5 599.0 L816.0 597.1 L816.4 598.4 L816.8 597.6 L817.3 601.2 L817.6 604.3 L818.4 602.2 L818.4 606.1 L819.2 598.3 L820.0 612.4 L820.0 617.5 L820.8 612.1 L821.6 615.6 L822.4 620.9 L822.4 616.9 L823.2 617.7 L824.0 617.2 L824.8 619.5 L825.0 626.4 L825.6 620.9 L826.4 616.6 L827.0 618.1 L827.2 609.8 L828.0 619.3 L828.7 612.1 L828.8 614.6 L829.6 608.8 L829.6 603.1 L830.4 612.8 L830.5 610.2 L831.2 613.0 L832.0 609.4 L832.0 610.3 L832.8 613.4 L833.6 629.1 L833.6 632.0 L834.4 634.8 L835.2 641.2 L835.6 634.3 L836.0 644.6 L836.6 641.4 L836.8 649.6 L837.2 646.5 L837.6 652.3 L838.4 651.1 L838.5 649.2 L839.2 666.1 L839.5 667.6 L839.8 677.3 L840.0 678.1 L840.8 673.9 L841.2 675.3 L841.6 677.3 L842.4 673.2 L842.5 674.2 L843.2 675.2 L843.8 677.3 L844.0 675.9 L844.8 678.6 L845.1 676.8 L845.6 683.0 L846.4 684.1 L846.4 679.1 L847.2 681.3 L847.7 679.3 L848.0 680.1 L848.8 677.5 L849.6 677.1 L849.7 678.0 L850.4 679.4 L851.0 681.9 L851.2 679.7 L852.0 686.2 L852.3 689.1 L852.8 694.4 L853.6 690.4 L853.6 694.9 L854.4 690.3 L854.9 689.5 L855.2 687.8 L856.0 687.9 L856.2 682.2 L856.8 686.6 L857.6 686.6 L857.6 686.7 L858.4 686.8 L858.9 689.2 L859.2 687.6 L860.0 687.8 L860.2 690.1 L860.8 689.0 L861.5 688.2 L861.6 689.1 L862.4 686.5 L862.4 686.8 L863.2 687.3 L863.5 691.6 L864.0 692.7 L864.8 694.8 L864.8 692.7 L865.6 695.6 L866.1 694.8 L866.4 692.9 L867.2 692.3 L867.4 690.6 L868.0 695.5 L868.7 693.4 L868.8 690.4 L869.6 697.3 L870.0 697.1 L870.4 699.3 L871.2 704.1 L871.3 701.9 L872.0 703.7 L872.7 706.2 L872.8 707.2 L873.6 710.8 L874.0 713.5 L874.4 712.2 L875.2 714.4 L875.3 715.3 L876.0 712.6 L876.6 710.8 L876.8 709.4 L877.6 708.2 L877.9 704.6 L878.4 706.0 L879.2 707.8 L879.2 705.9 L880.0 709.2 L880.5 709.3 L880.8 708.7 L881.6 708.0 L881.8 708.2 L882.4 704.0 L883.2 704.5 L883.2 703.5 L884.0 707.7 L884.5 711.0 L884.8 713.3 L885.6 714.8 L885.8 714.2 L886.4 714.2 L887.1 715.3 L887.2 714.1 L888.0 715.9 L888.4 714.1 L888.8 714.2 L889.6 711.6 L889.7 709.5 L890.4 708.0 L891.0 710.2 L891.2 710.2 L892.0 709.3 L892.3 708.7 L892.8 706.2 L893.6 707.1 L893.7 707.8 L894.4 710.7 L895.0 713.4 L895.2 712.8 L896.0 710.5 L896.3 709.2 L896.8 710.1 L897.6 713.6 L897.6 712.8 L898.4 712.8 L898.9 714.9 L899.2 714.9 L900.0 716.1 L900.2 715.2 L900.8 717.0 L901.5 720.0 L901.6 720.5 L902.4 721.5 L902.8 721.9 L903.2 719.1 L903.8 712.1 L904.0 710.9 L904.8 709.3 L904.8 708.0 L905.6 707.0 L906.1 707.7 L906.4 706.9 L907.2 708.9 L907.4 708.9 L908.0 704.9 L908.5 702.6 L908.8 701.4 L909.4 700.3 L909.6 701.5 L910.3 705.4 L910.4 705.9 L911.2 701.5 L911.4 699.3 L912.0 692.7 L912.4 691.1 L912.8 692.9 L913.3 696.2 L913.6 699.1 L914.3 697.6 L914.4 697.3 L915.2 707.5 L915.3 705.7 L916.0 706.9 L916.6 708.4 L916.8 706.8 L917.6 710.8 L917.9 710.9 L918.4 710.7 L919.2 710.3 L919.2 709.6 L920.0 711.2 L920.6 712.2 L920.8 712.6 L921.6 710.4 L921.9 711.1 L922.4 710.8 L923.2 710.0 L923.2 711.8 L924.0 714.4 L924.5 713.6 L924.8 715.9 L925.6 718.3 L925.8 718.8 L926.4 720.9 L927.1 721.2 L927.2 722.0 L928.0 721.6 L928.4 722.4 L928.8 723.7 L929.6 725.4 L929.8 725.4 L930.4 726.0 L931.1 726.7 L931.2 726.5 L932.0 726.7 L932.4 726.1 L932.8 726.1 L933.6 726.7 L933.7 726.9 L934.4 726.4 L935.0 725.4 L935.2 725.8 L936.0 725.9 L936.3 726.2 L936.8 725.1 L937.6 725.0 L937.6 725.3 L938.4 726.6 L938.9 726.7 L939.2 728.3 L940.0 729.7 L940.2 730.6 L940.8 730.8 L941.6 731.2 L942.2 731.5 L942.4 731.5 L943.2 731.5 L944.0 731.5 L944.8 731.5 L944.8 731.5 L945.6 730.2 L946.2 729.1 L946.4 730.0 L946.8 731.5 L947.2 731.5 L948.0 731.5 L948.8 731.5 L949.6 731.5 L950.4 731.5 L951.2 731.5 L952.0 731.5 L952.1 731.5 L952.8 730.9 L953.4 730.5 L953.6 730.1 L954.4 728.3 L954.7 727.8 L955.2 726.9 L956.0 726.0 L956.0 726.1 L956.8 723.6 L957.3 723.3 L957.6 724.0 L958.4 724.3 L958.6 724.7 L959.2 725.8 L959.9 725.9 L960.0 726.2 L960.8 728.7 L961.2 729.4 L961.6 729.7 L962.4 730.7 L962.6 731.0 L963.2 731.0 L964.0 731.1 L964.8 731.1 L965.6 731.2 L966.4 731.2 L966.5 731.2 L967.2 729.8 L967.5 728.0 L968.0 727.1 L968.5 726.4 L968.8 727.3 L969.6 728.5 L969.8 728.8 L970.4 729.4 L971.1 730.6 L971.2 730.7 L972.0 731.0 L972.8 731.4 L973.1 731.5 L973.6 731.2 L974.4 730.9 L975.0 730.6 L975.2 730.0 L976.0 728.2 L976.3 727.4 L976.8 724.6 L977.6 721.5 L977.7 720.8 L978.4 723.6 L978.6 724.4 L979.2 720.8 L979.6 718.8 L980.0 718.1 L980.8 717.0 L980.9 717.0 L981.6 718.1 L982.0 721.8 L982.4 724.7 L982.9 725.7 L983.2 725.3 L984.0 727.2 L984.2 727.2 L984.8 728.0 L985.5 727.8 L985.6 728.3 L986.4 724.7 L986.8 724.3 L987.2 723.2 L988.0 722.6 L988.2 723.0 L988.8 722.6 L989.5 722.7 L989.6 720.5 L990.4 715.9 L990.4 716.1 L991.2 709.1 L991.4 708.4 L992.0 712.7 L992.5 713.8 L992.8 715.7 L993.4 723.1 L993.6 723.7 L994.4 725.9 L994.7 726.8 L995.2 725.7 L996.0 724.3 L996.0 725.3 L996.8 723.2 L997.3 721.5 L997.6 721.4 L998.4 718.8 L998.7 719.9 L999.2 719.5 L1000.0 719.6 L1000.0 719.1 L1000.8 720.8 L1001.3 720.5 L1001.6 722.0 L1002.4 723.3 L1002.6 724.1 L1003.2 725.8 L1003.9 728.0 L1004.0 728.2 L1004.8 729.2 L1005.2 729.3 L1005.6 729.7 L1006.4 730.5 L1006.5 730.6 L1007.2 730.8 L1008.0 731.1 L1008.5 731.2 L1008.8 730.9 L1009.6 730.1 L1009.8 729.9 L1010.4 730.0 L1011.2 730.4 L1011.8 730.5 L1012.0 730.6 L1012.8 730.3 L1013.6 729.8 L1013.8 729.9 L1014.4 729.7 L1015.2 728.9 L1015.7 729.4 L1016.0 730.0 L1016.8 730.0 L1017.6 730.6 L1017.7 730.6 L1018.4 730.9 L1019.2 731.3 L1019.7 731.5 L1020.0 731.4 L1020.8 731.3 L1021.6 731.2 L1021.6 731.2 L1022.4 731.0 L1023.2 730.7 L1023.6 730.6 L1024.0 729.4 L1024.8 727.2 L1024.9 727.0 L1025.6 727.5 L1026.4 726.9 L1026.9 726.7 L1027.2 727.2 L1028.0 726.2 L1028.8 724.8 L1028.8 725.6 L1029.6 724.8 L1030.4 724.2 L1030.8 723.7 L1031.2 724.9 L1032.0 724.2 L1032.8 723.1 L1032.8 723.2 L1033.6 721.2 L1033.8 719.1 L1034.4 714.6 L1034.8 711.5 L1035.2 711.7 L1036.0 716.7 L1036.1 716.4 L1036.8 716.3 L1037.4 714.5 L1037.6 714.7 L1038.4 715.5 L1038.7 716.0 L1039.2 718.3 L1039.5 718.6 L1040.0 720.8 L1040.5 723.1 L1040.8 721.5 L1041.5 716.1 L1041.6 713.5 L1042.4 701.2 L1042.5 702.8 L1043.2 689.7 L1043.4 690.1 L1044.0 697.1 L1044.2 699.5 L1044.8 692.1 L1045.0 692.4 L1045.6 690.5 L1045.8 695.3 L1046.4 698.5 L1046.5 703.9 L1047.2 706.1 L1047.3 708.7 L1048.0 706.3 L1048.1 705.5 L1048.8 701.7 L1049.0 703.8 L1049.6 704.8 L1050.0 710.0 L1050.4 711.8 L1051.0 717.6 L1051.2 719.1 L1052.0 721.7 L1052.0 722.7 L1052.8 724.6 L1053.1 726.5 L1053.6 725.6 L1054.3 724.1 L1054.4 724.3 L1055.2 728.5 L1055.2 728.7 L1056.0 730.1 L1056.2 730.6 L1056.8 730.1 L1057.6 729.3 L1057.6 729.0 L1058.4 725.1 L1058.6 725.2 L1059.2 725.6 L1059.5 724.8 L1060.0 726.9 L1060.5 729.9 L1060.8 730.2 L1061.6 730.8 L1061.8 731.0 L1062.4 730.1 L1063.1 729.0 L1063.2 728.6 L1064.0 726.6 L1064.4 725.3 L1064.8 724.2 L1065.4 720.0 L1065.6 719.9 L1066.4 714.7 L1066.5 715.6 L1067.2 706.8 L1067.3 706.1 L1067.8 686.1 L1068.0 674.3 L1068.3 666.3 L1068.8 682.1 L1068.8 685.7 L1069.4 695.0 L1069.6 694.8 L1070.2 693.5 L1070.4 696.0 L1071.0 705.4 L1071.2 707.4 L1071.7 716.6 L1072.0 716.2 L1072.7 714.8 L1072.8 715.1 L1073.6 709.0 L1073.6 708.7 L1074.4 711.9 L1074.6 712.3 L1075.2 707.4 L1075.5 708.0 L1076.0 704.7 L1076.5 704.1 L1076.8 705.2 L1077.2 711.0 L1077.6 711.8 L1078.3 713.5 L1078.4 712.9 L1079.2 711.4 L1079.2 708.7 L1080.0 708.4 L1080.1 711.0 L1080.8 711.6 L1081.2 713.5 L1081.6 715.4 L1082.2 717.4 L1082.4 717.6 L1083.2 723.7 L1083.2 722.9 L1084.0 726.6 L1084.1 725.8 L1084.8 724.9 L1085.1 723.7 L1085.6 719.4 L1086.2 713.2 L1086.4 714.3 L1087.1 710.7 L1087.2 709.5 L1088.0 710.3 L1088.0 711.5 L1088.8 710.0 L1089.1 709.6 L1089.6 710.4 L1090.1 706.7 L1090.4 708.0 L1091.0 707.3 L1091.2 706.3 L1092.0 703.1 L1092.0 700.0 L1092.8 702.1 L1093.0 700.1 L1093.6 693.5 L1093.8 690.7 L1094.4 691.8 L1094.4 686.7 L1095.2 689.8 L1095.2 692.2 L1096.0 694.6 L1096.0 692.1 L1096.8 695.7 L1096.9 698.8 L1097.6 699.1 L1097.7 700.1 L1098.4 705.3 L1098.5 706.3 L1099.2 710.6 L1099.6 710.9 L1100.0 710.4 L1100.6 714.4 L1100.8 713.9 L1101.5 709.5 L1101.6 710.2 L1102.4 710.1 L1102.5 709.6 L1103.2 715.0 L1103.2 715.4 L1104.0 719.5 L1104.2 720.3 L1104.8 722.2 L1105.1 723.7 L1105.6 723.8 L1106.1 722.7 L1106.4 723.0 L1107.2 724.2 L1107.2 723.9 L1108.0 722.7 L1108.2 723.2 L1108.8 723.9 L1109.4 724.4 L1109.6 725.0 L1110.3 726.8 L1110.4 727.1 L1111.2 728.5 L1111.4 728.2 L1112.0 727.1 L1112.4 727.3 L1112.8 724.4 L1113.5 720.1 L1113.6 720.0 L1114.4 715.6 L1114.4 715.7 L1115.2 714.4 L1115.3 716.0 L1116.0 716.8 L1116.4 718.6 L1116.8 719.5 L1117.3 721.6 L1117.6 721.2 L1118.2 723.0 L1118.4 724.0 L1119.2 720.6 L1119.2 721.1 L1120.0 720.4 L1120.3 718.6 L1120.8 713.6 L1121.0 712.6 L1121.6 711.2 L1121.6 711.5 L1122.3 718.4 L1122.4 719.3 L1123.2 722.6 L1123.2 723.7 L1124.0 722.1 L1124.0 720.8 L1124.8 726.8 L1124.8 726.7 L1125.6 728.8 L1125.8 729.0 L1126.4 729.7 L1127.1 730.6 L1127.2 730.6 L1128.0 730.3 L1128.4 730.3 L1128.8 730.1 L1129.6 730.1 L1129.8 729.1 L1130.4 727.6 L1131.1 727.7 L1131.2 727.2 L1132.0 727.9 L1132.4 728.4 L1132.8 729.3 L1133.6 728.6 L1133.7 729.0 L1134.4 729.9 L1135.0 730.5 L1135.2 730.7 L1136.0 731.3 L1136.3 731.5 L1136.8 731.3 L1137.6 731.1 L1138.3 730.8 L1138.4 730.8 L1139.2 730.3 L1139.6 729.9 L1140.0 729.6 L1140.8 729.7 L1141.3 728.9 L1141.6 729.6 L1142.4 730.8 L1142.6 731.2 L1143.2 731.3 L1144.0 731.3 L1144.8 731.4 L1145.5 731.5 L1145.6 731.5 L1146.4 731.4 L1147.2 731.3 L1148.0 731.2 L1148.1 731.2 L1148.8 731.3 L1149.6 731.3 L1150.4 731.4 L1151.2 731.4 L1152.0 731.5 L1152.1 731.5 L1152.8 731.5 L1153.6 731.5 L1154.4 731.5 L1155.2 731.5 L1156.0 731.5 L1156.0 731.5 L1156.8 731.2 L1157.6 731.0 L1157.6 731.0 L1158.4 729.6 L1158.6 729.2 L1159.2 729.8 L1159.9 730.6 L1160.0 730.6 L1160.8 730.8 L1161.6 730.9 L1161.9 731.0 L1162.4 730.9 L1163.2 730.6 L1163.9 730.6 L1164.0 730.5 L1164.8 730.5 L1165.6 730.4 L1165.8 730.3 L1166.4 730.4 L1167.2 730.7 L1167.8 731.0 L1168.0 730.8 L1168.8 730.2 L1169.1 729.9 L1169.6 729.5 L1169.9 729.4 L1170.4 730.0 L1171.1 731.2 L1171.2 731.2 L1172.0 731.3 L1172.8 731.4 L1173.6 731.5 L1173.7 731.5 L1174.4 731.4 L1175.2 731.3 L1175.7 731.2 L1176.0 730.0 L1176.7 726.6 L1176.8 726.8 L1177.6 724.9 L1177.7 724.1 L1178.4 727.3 L1178.6 727.3 L1179.2 725.7 L1179.6 725.5 L1180.0 724.5 L1180.5 723.5 L1180.8 724.7 L1181.6 726.6 L1181.6 726.2 L1182.4 726.0 L1182.6 725.4 L1183.2 724.7 L1183.8 725.9 L1184.0 724.6 L1184.8 724.8 L1184.9 723.7 L1185.6 722.9 L1185.9 723.1 L1186.4 724.0 L1187.0 724.7 L1187.2 724.1 L1188.0 727.6 L1188.2 727.1 L1188.8 728.3 L1189.5 729.2 L1189.6 729.2 L1190.4 729.8 L1190.8 729.9 L1191.2 729.6 L1192.0 729.3 L1192.1 729.3 L1192.8 724.7 L1193.1 724.4 L1193.6 722.8 L1194.1 722.3 L1194.4 724.9 L1195.0 726.7 L1195.2 726.8 L1196.0 725.9 L1196.0 725.3 L1196.7 721.4 L1196.8 721.3 L1197.3 720.7 L1197.6 722.7 L1198.0 726.5 L1198.4 727.3 L1199.0 729.9 L1199.2 730.0 L1200.0 730.7 L1200.6 731.2 L1200.8 731.1 L1201.6 730.8 L1202.4 730.7 L1202.6 730.6 L1203.2 730.6 L1204.0 730.8 L1204.6 730.8 L1204.8 730.8 L1205.6 730.7 L1206.4 730.5 L1206.5 730.6 L1207.2 729.9 L1207.8 729.2 L1208.0 729.9 L1208.8 730.6 L1208.8 730.6 L1209.6 731.2 L1210.1 731.5 L1210.4 731.3 L1211.2 730.9 L1211.8 730.6 L1212.0 729.7 L1212.8 727.4 L1212.8 726.8 L1213.5 721.9 L1213.6 722.8 L1214.1 726.7 L1214.4 726.6 L1215.2 727.3 L1215.3 727.2 L1216.0 726.7 L1216.6 726.2 L1216.8 726.2 L1217.6 725.8 L1218.0 725.2 L1218.4 725.7 L1219.2 726.1 L1219.3 726.0 L1220.0 725.4 L1220.6 724.3 L1220.8 723.8 L1221.6 725.7 L1221.9 725.7 L1222.4 726.7 L1223.2 727.3 L1223.2 726.8 L1224.0 725.5 L1224.5 726.0 L1224.8 726.0 L1225.6 723.8 L1225.6 723.0 L1226.4 726.2 L1226.6 727.3 L1227.2 726.8 L1227.9 726.6 L1228.0 726.0 L1228.8 726.8 L1229.2 725.5 L1229.6 725.8 L1230.0 723.9 L1230.4 721.4 L1230.7 718.9 L1231.2 711.4 L1231.6 708.8 L1232.0 706.8 L1232.6 699.4 L1232.8 695.2 L1233.4 690.0 L1233.6 694.5 L1234.2 702.1 L1234.4 703.0 L1235.0 708.9 L1235.2 705.2 L1235.9 705.8 L1236.0 705.4 L1236.8 703.6 L1236.8 701.6 L1237.6 707.8 L1237.6 708.2 L1238.4 708.5 L1238.5 709.3 L1239.2 706.2 L1239.5 708.0 L1240.0 704.3 L1240.5 702.1 L1240.8 700.8 L1241.3 691.9 L1241.6 691.1 L1242.1 687.4 L1242.4 688.4 L1242.9 696.1 L1243.2 693.7 L1243.7 698.3 L1244.0 693.2 L1244.4 694.1 L1244.8 696.8 L1245.2 701.8 L1245.6 704.5 L1246.0 705.7 L1246.4 705.5 L1247.1 702.4 L1247.2 700.0 L1248.0 701.4 L1248.1 700.1 L1248.8 703.0 L1249.0 703.7 L1249.6 708.0 L1250.0 706.9 L1250.4 703.8 L1251.0 706.1 L1251.2 706.3 L1252.0 708.8 L1252.0 708.6 L1252.8 712.1 L1253.1 713.4 L1253.6 716.0 L1254.3 715.3 L1254.4 714.6 L1255.2 714.0 L1255.6 714.1 L1256.0 709.7 L1256.6 705.7 L1256.8 704.8 L1257.6 702.2 L1257.6 702.3 L1258.4 699.9 L1258.5 701.3 L1259.2 705.0 L1259.4 705.9 L1260.0 702.7 L1260.2 702.4 L1260.8 701.2 L1261.1 701.4 L1261.6 704.3 L1262.0 704.5 L1262.4 700.6 L1262.8 697.7 L1263.2 691.8 L1263.5 684.5 L1264.0 685.8 L1264.1 680.9 L1264.8 679.2 L1264.9 682.4 L1265.6 686.7 L1265.7 683.2 L1266.4 694.2 L1266.5 692.9 L1267.2 699.3 L1267.4 700.8 L1268.0 707.7 L1268.3 707.0 L1268.8 707.8 L1269.4 708.7 L1269.6 707.4 L1270.4 706.0 L1270.7 707.7 L1271.2 705.4 L1272.0 707.5 L1272.0 708.1 L1272.8 710.1 L1273.3 711.3 L1273.6 710.1 L1274.4 711.6 L1274.6 710.4 L1275.2 715.4 L1275.5 716.6 L1276.0 716.8 L1276.6 721.4 L1276.8 721.3 L1277.5 724.9 L1277.6 724.2 L1278.4 725.2 L1278.6 726.1 L1279.2 726.6 L1279.9 725.4 L1280.0 725.5 L1280.8 725.7 L1281.2 726.6 L1281.6 726.9 L1282.4 725.4 L1282.5 724.6 L1283.2 726.0 L1283.8 727.7 L1284.0 728.0 L1284.8 727.4 L1285.1 727.0 L1285.6 726.3 L1286.4 725.4 L1286.4 725.7 L1287.2 724.6 L1287.4 725.5 L1288.0 727.5 L1288.4 729.3 L1288.8 729.8 L1289.6 731.0 L1289.7 731.2 L1290.4 731.1 L1291.2 731.0 L1292.0 730.8 L1292.3 730.8 L1292.8 730.9 L1293.6 731.0 L1294.4 731.1 L1295.2 731.2 L1295.6 731.2 L1296.0 731.3 L1296.8 731.3 L1297.6 731.4 L1298.4 731.4 L1299.2 731.5 L1299.6 731.5 L1300.0 731.5 L1300.8 731.4 L1301.6 731.3 L1302.4 731.3 L1303.2 731.2 L1303.5 731.2 L1304.0 731.2 L1304.8 731.1 L1305.5 731.0 L1305.6 730.9 L1306.4 730.4 L1307.2 730.0 L1307.4 729.9 L1308.0 730.2 L1308.8 730.3 L1309.4 730.6 L1309.6 730.5 L1310.4 730.0 L1310.7 729.9 L1311.2 729.4 L1311.6 727.5 L1312.0 729.4 L1312.4 730.6 L1312.8 730.6 L1313.6 730.9 L1314.0 731.0 L1314.4 731.1 L1315.2 731.3 L1316.0 731.5 L1316.0 731.5 L1316.8 731.0 L1317.6 730.4 L1317.7 730.3 L1318.4 730.5 L1319.2 730.8 L1319.2 730.8 L1320.0 730.4 L1320.8 729.8 L1320.8 729.9 L1321.6 730.2 L1322.4 730.3 L1322.5 730.3 L1323.2 729.8 L1323.8 729.3 L1324.0 727.8 L1324.8 725.2 L1324.8 725.5 L1325.5 725.7 L1325.6 726.3 L1326.3 730.6 L1326.4 730.6 L1327.2 730.9 L1328.0 731.1 L1328.4 731.2 L1328.8 731.2 L1329.6 731.0 L1330.4 730.9 L1331.1 730.8 L1331.2 730.8 L1332.0 731.0 L1332.8 731.1 L1333.6 731.2 L1333.7 731.2 L1334.4 731.3 L1335.2 731.3 L1336.0 731.4 L1336.8 731.4 L1337.6 731.5 L1337.6 731.5 L1338.4 731.4 L1339.2 731.4 L1340.0 731.3 L1340.8 731.3 L1341.6 731.2 L1341.6 731.2 L1342.4 731.2 L1343.2 731.1 L1344.0 731.0 L1344.8 731.0 L1345.5 731.0 L1345.6 731.0 L1346.4 730.8 L1347.2 730.7 L1348.0 730.7 L1348.8 730.6 L1348.8 730.6 L1349.6 730.7 L1350.4 730.9 L1350.5 730.9 L1351.2 730.1 L1351.4 729.9 L1352.0 730.6 L1352.7 731.2 L1352.8 731.2 L1353.6 731.1 L1354.4 730.9 L1355.2 730.8 L1355.3 730.8 L1356.0 730.1 L1356.7 729.3 L1356.8 729.6 L1357.6 728.0 L1358.0 728.5 L1358.4 729.7 L1359.2 729.9 L1359.3 729.5 L1360.0 729.8 L1360.6 729.3 L1360.8 729.9 L1361.6 730.3 L1361.9 730.5 L1362.4 730.7 L1363.2 731.0 L1363.9 731.2 L1364.0 731.2 L1364.8 731.3 L1365.6 731.4 L1366.4 731.5 L1366.5 731.5 L1367.2 731.2 L1368.0 731.0 L1368.8 730.7 L1369.1 730.6 L1369.6 730.2 L1370.4 729.7 L1371.1 729.3 L1371.2 729.3 L1372.0 729.6 L1372.4 728.7 L1372.8 728.8 L1373.6 729.8 L1373.7 729.2 L1374.4 727.8 L1375.0 727.2 L1375.2 727.7 L1376.0 725.5 L1376.3 725.5 L1376.8 726.8 L1377.3 727.2 L1377.6 726.7 L1378.3 725.1 L1378.4 725.5 L1379.2 724.9 L1379.6 724.5 L1380.0 723.3 L1380.8 723.5 L1380.9 724.1 L1381.6 725.7 L1382.2 725.8 L1382.4 724.9 L1383.2 725.5 L1383.6 725.1 L1384.0 725.1 L1384.8 726.1 L1384.9 726.8 L1385.6 727.6 L1386.2 727.0 L1386.4 726.6 L1387.2 726.4 L1387.5 726.6 L1388.0 727.9 L1388.8 728.1 L1388.8 727.8 L1389.6 729.4 L1390.1 729.9 L1390.4 729.9 L1391.2 730.2 L1392.0 730.3 L1392.1 730.3 L1392.8 730.4 L1393.6 730.5 L1394.1 730.6 L1394.4 730.5 L1395.2 730.7 L1396.0 730.8 L1396.0 730.8 L1396.8 730.3 L1397.6 729.5 L1398.0 729.4 L1398.4 728.3 L1399.2 727.0 L1399.3 727.3 L1400.0 726.3 L1400.6 726.3 L1400.8 726.9 L1401.6 726.2 L1401.7 725.3 L1402.4 725.6 L1402.7 725.8 L1403.2 726.6 L1403.9 728.2 L1404.0 728.0 L1404.8 729.8 L1405.2 730.6 L1405.6 730.8 L1406.4 731.1 L1407.2 731.5 L1407.2 731.5 L1408.0 731.5 L1408.8 731.5 L1409.6 731.5 L1410.4 731.5 L1410.5 731.5 L1411.2 731.4 L1412.0 731.3 L1412.4 731.2 L1412.8 727.7 L1413.2 725.3 L1413.6 725.2 L1414.0 724.2 L1414.4 724.5 L1414.8 726.0 L1415.2 726.3 L1415.7 725.2 L1416.0 724.5 L1416.6 723.9 L1416.8 722.8 L1417.6 719.4 L1417.7 718.6 L1418.4 714.9 L1418.6 715.4 L1419.2 718.4 L1419.4 720.2 L1420.0 719.1 L1420.3 718.4 L1420.8 718.8 L1421.4 721.8 L1421.6 720.8 L1422.4 719.5 L1422.4 721.2 L1423.2 719.9 L1423.5 721.7 L1424.0 724.6 L1424.5 725.3 L1424.8 725.5 L1425.6 726.8 L1425.6 726.3 L1426.4 729.2 L1426.6 729.4 L1427.2 727.7 L1427.5 728.1 L1428.0 725.0 L1428.5 722.1 L1428.8 723.1 L1429.2 721.2" fill="none" stroke="#f7931a" stroke-width="1" stroke-linejoin="round" stroke-opacity="0.9"/>
<g id="wm"><use href="#gn" stroke="#000" stroke-width="4.5" opacity="0.075" transform="translate(-4512.2 -2746.8) scale(3.64 3.74)"/></g>
<!-- black -->
<path d="M171.2 513.6 L172.0 508.1 L172.8 507.6 L173.0 505.7 L173.6 506.9 L174.4 511.0 L175.2 513.8 L176.0 518.7 L176.0 521.6 L176.8 522.5 L177.6 522.6 L178.4 528.0 L179.0 531.5 L179.2 525.8 L180.0 519.3 L180.0 516.5 L180.8 518.4 L181.6 515.1 L182.4 513.3 L183.0 507.6 L183.2 509.6 L184.0 497.0 L184.8 485.0 L185.0 481.3 L185.6 479.2 L186.4 474.6 L187.0 475.2 L187.2 470.4 L188.0 469.6 L188.4 467.1 L188.8 469.5 L189.6 479.8 L190.4 481.4 L191.0 488.7 L191.2 481.5 L192.0 474.5 L192.8 464.3 L193.0 465.1 L193.6 466.0 L194.4 460.1 L195.2 458.8 L196.0 451.8 L196.0 453.8 L196.8 450.4 L197.6 446.5 L198.4 444.2 L199.0 446.7 L199.2 451.2 L200.0 449.1 L200.8 452.9 L201.6 460.8 L202.0 458.5 L202.4 454.3 L203.0 448.3 L203.2 447.8 L204.0 442.2 L204.8 437.8 L205.6 439.0 L206.0 436.5 L206.4 441.7 L207.2 439.8 L208.0 438.7 L208.8 446.1 L209.0 447.3 L209.6 445.2 L210.4 441.7 L211.2 438.6 L212.0 437.9 L212.8 437.6 L213.0 438.7 L213.6 441.8 L214.4 434.7 L215.0 435.4 L215.2 438.5 L216.0 436.2 L216.8 430.5 L217.6 428.5 L218.0 428.0 L218.4 432.1 L219.2 441.9 L220.0 456.8 L220.0 456.9 L220.8 457.5 L221.6 455.9 L222.4 458.4 L223.0 457.4 L223.2 456.0 L224.0 457.1 L224.8 452.1 L225.6 446.2 L226.0 442.2 L226.4 442.9 L227.2 443.2 L228.0 446.1 L228.0 446.0 L228.8 457.0 L229.6 472.8 L230.0 474.3 L230.4 467.8 L231.2 463.9 L232.0 459.8 L232.0 463.2 L232.8 464.8 L233.6 464.9 L234.4 472.8 L235.0 471.8 L235.2 474.0 L236.0 463.6 L236.8 460.6 L237.6 450.5 L238.0 445.8 L238.4 444.4 L239.2 445.3 L240.0 440.5 L240.0 435.6 L240.8 430.6 L241.6 422.3 L242.0 419.3 L242.4 417.9 L243.2 423.6 L244.0 418.2 L244.8 416.6 L245.0 418.3 L245.6 417.6 L246.4 416.0 L247.2 414.7 L248.0 410.2 L248.0 412.9 L248.8 409.5 L249.6 401.2 L250.0 397.1 L250.4 394.3 L251.2 392.0 L252.0 389.1 L252.8 382.2 L253.0 382.7 L253.6 388.9 L254.4 392.5 L255.0 396.7 L255.2 399.0 L256.0 398.7 L256.8 403.2 L257.6 402.2 L258.0 405.3 L258.4 402.3 L259.2 402.2 L260.0 400.5 L260.0 398.9 L260.8 398.3 L261.6 392.4 L262.4 393.7 L263.0 390.9 L263.2 392.2 L264.0 394.9 L264.8 400.3 L265.6 403.3 L266.0 398.7 L266.4 396.4 L267.2 393.2 L268.0 388.4 L268.8 379.5 L269.0 379.8 L269.6 387.3 L270.4 385.7 L271.0 392.0 L271.2 393.9 L272.0 389.0 L272.8 389.1 L273.6 385.2 L273.6 384.3 L274.4 393.6 L275.0 402.7 L275.2 402.5 L276.0 409.6 L276.8 406.5 L277.6 411.2 L278.0 414.3 L278.4 413.9 L279.2 407.8 L280.0 411.8 L280.8 407.5 L281.0 409.0 L281.6 414.6 L282.4 421.3 L283.0 422.3 L283.2 417.9 L284.0 414.6 L284.8 414.4 L285.6 408.1 L286.0 408.7 L286.4 411.4 L287.2 413.3 L288.0 418.9 L288.0 417.1 L288.8 428.6 L289.6 449.3 L289.6 445.4 L290.4 442.5 L291.0 433.3 L291.2 433.9 L292.0 431.6 L292.8 438.6 L293.6 436.4 L294.0 439.1 L294.4 438.4 L295.2 442.4 L296.0 443.2 L296.8 443.3 L297.0 442.9 L297.6 445.1 L298.4 445.2 L299.2 449.2 L300.0 451.9 L300.0 452.3 L300.8 452.6 L301.6 448.1 L302.4 444.0 L303.0 444.2 L303.2 443.9 L304.0 439.9 L304.8 433.7 L305.0 433.1 L305.6 431.7 L306.4 430.9 L307.0 430.2 L307.2 430.8 L308.0 436.7 L308.8 440.9 L309.0 444.5 L309.6 448.3 L310.4 448.0 L311.2 446.5 L312.0 448.8 L312.0 448.9 L312.8 450.8 L313.6 455.6 L314.4 455.1 L315.0 453.6 L315.2 454.0 L316.0 462.7 L316.8 470.4 L317.0 470.7 L317.6 473.3 L318.4 468.6 L319.2 467.4 L320.0 461.8 L320.0 466.4 L320.8 463.2 L321.6 464.7 L322.4 461.8 L323.0 464.3 L323.2 464.0 L324.0 464.4 L324.8 467.9 L325.6 467.4 L326.0 469.0 L326.4 473.5 L327.2 481.6 L328.0 494.2 L328.0 495.9 L328.8 504.6 L329.6 510.0 L329.6 505.8 L330.4 504.3 L331.2 498.2 L332.0 490.0 L332.0 487.4 L332.8 488.6 L333.6 488.0 L334.4 490.9 L335.0 486.3 L335.2 488.9 L336.0 489.3 L336.8 487.7 L337.0 490.5 L337.6 485.6 L338.4 476.8 L339.0 472.3 L339.2 466.5 L340.0 467.9 L340.8 460.0 L341.6 453.7 L342.0 454.7 L342.4 456.3 L343.2 461.3 L344.0 461.5 L344.8 466.8 L345.0 464.7 L345.6 460.4 L346.4 463.4 L347.2 462.7 L348.0 459.9 L348.0 462.1 L348.8 463.3 L349.6 469.4 L350.4 477.7 L351.0 481.1 L351.2 481.7 L352.0 491.7 L352.8 492.3 L353.6 500.5 L354.0 502.0 L354.4 494.7 L355.2 493.5 L356.0 485.2 L356.0 485.4 L356.8 476.3 L357.6 470.7 L358.4 457.3 L358.6 456.9 L359.2 461.0 L360.0 467.5 L360.8 478.6 L361.0 477.9 L361.6 479.4 L362.4 483.9 L363.0 489.3 L363.2 483.5 L364.0 472.7 L364.4 468.1 L364.8 473.4 L365.6 477.6 L366.4 479.7 L367.0 483.9 L367.2 486.7 L368.0 482.2 L368.8 478.6 L369.6 483.0 L370.0 479.2 L370.4 478.0 L371.2 477.0 L372.0 474.8 L372.8 469.8 L373.0 470.7 L373.6 471.2 L374.4 463.9 L375.2 464.4 L376.0 462.7 L376.0 462.9 L376.8 460.6 L377.6 461.1 L378.4 452.6 L379.0 451.3 L379.2 451.5 L380.0 447.1 L380.6 444.7 L380.8 447.5 L381.6 451.7 L382.4 457.7 L383.0 455.7 L383.2 459.6 L384.0 456.4 L384.8 449.2 L385.0 446.8 L385.6 451.5 L386.4 455.1 L387.2 454.3 L388.0 462.6 L388.0 463.9 L388.8 463.8 L389.6 467.6 L390.4 470.0 L391.0 467.9 L391.2 468.5 L392.0 470.9 L392.8 477.9 L393.0 480.2 L393.6 477.9 L394.4 475.6 L395.2 472.7 L396.0 476.0 L396.0 474.2 L396.8 475.9 L397.6 475.1 L398.4 469.0 L399.0 465.5 L399.2 465.7 L400.0 477.2 L400.8 478.8 L401.0 480.5 L401.6 482.3 L402.4 479.7 L403.2 477.3 L404.0 477.4 L404.0 473.6 L404.8 477.2 L405.6 482.7 L406.4 483.0 L407.0 486.4 L407.2 486.5 L408.0 483.7 L408.8 483.9 L409.6 477.9 L410.0 479.6 L410.4 481.5 L411.1 493.2 L411.2 495.7 L412.0 500.9 L412.8 504.3 L412.8 506.2 L413.6 509.1 L413.9 515.2 L414.4 518.1 L415.0 528.4 L415.2 533.9 L415.9 548.8 L416.0 551.0 L416.7 535.9 L416.8 536.3 L417.6 527.7 L418.3 522.6 L418.4 526.9 L419.2 525.1 L420.0 531.4 L420.0 531.7 L420.8 531.3 L421.6 528.0 L422.2 527.4 L422.4 529.8 L423.2 528.6 L423.9 536.0 L424.0 533.3 L424.8 534.3 L425.6 529.7 L426.1 529.6 L426.4 529.6 L427.2 530.1 L428.0 536.4 L428.3 538.0 L428.8 532.9 L429.6 527.5 L430.0 528.3 L430.4 523.6 L431.1 517.6 L431.2 519.1 L432.0 520.7 L432.8 526.1 L432.8 525.6 L433.6 527.2 L434.4 530.4 L434.4 530.5 L435.2 529.8 L436.0 526.6 L436.1 521.5 L436.8 526.3 L437.6 528.4 L437.8 528.5 L438.4 532.8 L439.2 538.0 L439.4 535.3 L440.0 541.7 L440.6 549.6 L440.8 554.5 L441.6 569.2 L441.6 568.7 L442.4 583.1 L443.2 594.8 L443.6 596.7 L444.0 598.0 L444.8 602.1 L445.0 602.6 L445.6 617.2 L446.0 627.1 L446.4 617.7 L447.2 607.8 L447.6 602.2 L448.0 599.4 L448.8 593.9 L449.6 593.4 L450.0 591.1 L450.4 594.9 L451.2 595.4 L452.0 596.2 L452.4 598.0 L452.8 598.3 L453.6 608.8 L454.4 614.3 L455.0 614.7 L455.2 614.2 L456.0 613.2 L456.8 615.5 L457.6 612.5 L458.0 609.8 L458.4 611.8 L459.2 605.1 L460.0 601.6 L460.0 599.5 L460.8 594.8 L461.6 587.6 L462.0 587.0 L462.4 589.1 L463.2 597.1 L464.0 598.8 L464.0 596.0 L464.8 600.1 L465.6 611.4 L465.6 614.0 L466.4 605.9 L467.2 597.5 L468.0 593.9 L468.0 595.1 L468.8 583.5 L469.6 581.9 L470.4 576.4 L471.0 570.0 L471.2 571.3 L472.0 571.6 L472.8 580.0 L473.0 582.0 L473.6 582.5 L474.4 582.9 L475.0 584.7 L475.2 583.4 L476.0 588.7 L476.4 596.6 L476.8 588.6 L477.6 577.0 L478.4 569.1 L478.4 566.8 L479.2 570.9 L480.0 572.2 L480.8 581.5 L481.0 578.0 L481.6 576.4 L482.4 580.4 L483.2 582.5 L483.6 581.1 L484.0 578.6 L484.8 579.0 L485.6 576.6 L486.0 575.7 L486.4 573.0 L487.2 569.4 L488.0 565.9 L488.4 568.3 L488.8 563.7 L489.6 569.8 L490.4 566.8 L491.0 563.8 L491.2 564.2 L492.0 568.0 L492.8 569.2 L493.0 571.0 L493.6 571.4 L494.4 576.6 L495.0 584.3 L495.2 583.8 L496.0 588.5 L496.8 593.2 L497.0 593.6 L497.6 593.7 L498.4 590.7 L499.2 591.2 L499.6 590.0 L500.0 588.8 L500.8 598.5 L501.6 600.6 L502.0 602.7 L502.4 602.0 L503.2 607.0 L504.0 608.1 L504.8 603.6 L505.0 605.8 L505.6 602.4 L506.4 609.5 L507.2 606.4 L508.0 604.6 L508.0 604.1 L508.8 609.2 L509.6 613.0 L510.4 616.1 L510.4 618.3 L511.2 608.3 L512.0 601.2 L512.4 591.6 L512.8 588.1 L513.6 587.5 L514.4 584.6 L514.4 583.1 L515.2 591.4 L516.0 602.1 L516.0 602.5 L516.8 608.3 L517.6 607.9 L518.4 611.0 L519.0 609.0 L519.2 608.5 L520.0 615.8 L520.8 622.4 L521.0 618.7 L521.6 616.5 L522.4 617.4 L523.2 610.9 L523.6 610.7 L524.0 607.7 L524.8 605.8 L525.6 608.0 L526.0 603.6 L526.4 609.8 L527.2 610.1 L528.0 615.2 L528.0 613.2 L528.8 608.7 L529.6 607.1 L530.4 609.7 L531.0 607.3 L531.2 609.3 L532.0 606.1 L532.8 599.5 L533.0 602.8 L533.6 603.8 L534.4 608.5 L535.2 606.7 L536.0 610.8 L536.0 607.5 L536.8 612.9 L537.6 613.5 L538.4 615.5 L539.0 616.9 L539.2 616.3 L540.0 612.2 L540.8 610.1 L541.0 608.9 L541.6 605.5 L542.4 611.8 L543.2 612.9 L544.0 612.4 L544.0 612.5 L544.8 608.4 L545.6 614.6 L546.4 611.2 L547.0 610.0 L547.2 611.5 L548.0 607.2 L548.8 604.9 L549.6 598.4 L550.0 598.6 L550.4 596.4 L551.2 597.7 L552.0 600.9 L552.8 599.8 L553.0 600.5 L553.6 599.1 L554.4 600.1 L555.2 601.7 L555.6 602.5 L556.0 602.8 L556.8 597.3 L557.6 594.4 L557.6 592.1 L558.4 596.1 L559.2 604.9 L559.6 603.6 L560.0 609.9 L560.8 629.0 L561.0 629.8 L561.6 639.7 L562.0 645.4 L562.4 647.5 L563.2 634.1 L563.6 635.5 L564.0 633.8 L564.8 641.6 L565.6 638.3 L565.6 637.2 L566.4 636.0 L567.2 639.2 L568.0 637.1 L568.0 635.3 L568.8 637.7 L569.6 641.0 L570.4 649.1 L570.4 649.7 L571.2 643.8 L572.0 639.0 L572.4 637.8 L572.8 638.0 L573.6 638.7 L574.4 639.5 L575.0 640.3 L575.2 635.3 L576.0 633.9 L576.8 636.8 L577.6 634.6 L578.0 632.6 L578.4 628.7 L579.2 635.3 L580.0 636.9 L580.8 636.6 L581.0 633.7 L581.6 629.3 L582.4 630.0 L583.2 634.7 L584.0 631.0 L584.0 631.6 L584.8 628.8 L585.6 633.3 L586.4 629.4 L587.0 633.3 L587.2 631.7 L588.0 629.1 L588.8 626.2 L589.0 622.5 L589.6 623.2 L590.4 634.7 L590.4 634.1 L591.2 632.6 L592.0 638.7 L592.8 637.9 L593.0 639.7 L593.6 636.1 L594.4 635.6 L595.2 640.4 L596.0 638.3 L596.0 638.6 L596.8 638.5 L597.6 633.9 L598.4 632.9 L599.0 636.9 L599.2 641.6 L600.0 633.6 L600.8 636.7 L601.6 635.2 L602.0 639.9 L602.4 640.5 L603.2 635.8 L604.0 638.4 L604.8 640.7 L605.0 637.8 L605.6 636.0 L606.4 635.1 L607.2 631.4 L608.0 636.0 L608.0 633.3 L608.8 636.0 L609.6 633.3 L610.4 629.3 L610.4 627.7 L611.2 625.8 L612.0 617.8 L612.0 616.8 L612.8 602.6 L613.6 596.4 L613.6 591.6 L614.4 591.6 L615.2 593.5 L616.0 596.3 L616.0 600.4 L616.8 594.2 L617.6 590.0 L618.0 592.3 L618.4 588.0 L619.2 580.2 L620.0 576.8 L620.0 574.4 L620.8 578.9 L621.6 577.4 L622.4 579.9 L622.4 579.6 L623.2 583.5 L624.0 577.3 L624.8 577.8 L625.0 577.1 L625.6 575.9 L626.4 571.1 L627.2 575.1 L628.0 573.2 L628.0 571.3 L628.8 571.3 L629.6 572.0 L630.0 576.3 L630.4 577.6 L631.2 577.0 L632.0 576.5 L632.4 577.2 L632.8 583.8 L633.6 583.4 L634.4 584.1 L635.0 586.7 L635.2 588.6 L636.0 588.3 L636.8 587.3 L637.0 591.0 L637.6 584.2 L638.4 577.6 L639.0 574.7 L639.2 575.5 L640.0 569.9 L640.8 567.8 L641.0 566.3 L641.6 567.2 L642.4 568.6 L643.0 565.6 L643.2 565.9 L644.0 567.5 L644.8 569.3 L645.6 572.9 L645.6 571.6 L646.4 572.1 L647.2 575.2 L648.0 575.8 L648.0 575.8 L648.8 571.6 L649.6 574.3 L650.0 573.7 L650.4 575.2 L651.2 579.3 L652.0 581.7 L652.0 582.0 L652.8 582.3 L653.6 583.1 L654.4 584.6 L655.0 584.6 L655.2 586.8 L656.0 590.4 L656.6 593.6 L656.8 599.7 L657.6 606.9 L657.6 608.9 L658.4 601.7 L659.0 597.7 L659.2 590.3 L660.0 578.8 L660.4 568.7 L660.8 565.4 L661.6 559.6 L662.0 557.0 L662.4 556.1 L663.2 549.6 L664.0 545.2 L664.0 544.7 L664.8 542.7 L665.6 543.1 L666.0 540.8 L666.4 539.7 L667.2 544.5 L668.0 545.6 L668.0 541.7 L668.8 545.2 L669.6 549.1 L670.4 547.8 L670.6 546.7 L671.2 547.2 L672.0 540.8 L672.8 540.5 L673.0 540.1 L673.6 544.3 L674.4 538.8 L675.2 543.0 L675.6 544.1 L676.0 541.4 L676.8 541.0 L677.6 541.4 L678.0 541.1 L678.4 541.3 L679.2 541.5 L680.0 536.9 L680.8 541.8 L681.0 540.8 L681.6 539.7 L682.4 537.1 L683.0 530.2 L683.2 529.1 L684.0 529.4 L684.8 528.1 L685.6 526.8 L685.6 522.4 L686.4 523.5 L687.2 524.3 L688.0 530.2 L688.0 530.0 L688.8 530.1 L689.6 534.2 L690.0 537.6 L690.4 536.8 L691.2 539.8 L692.0 543.2 L692.4 547.8 L692.8 545.9 L693.6 541.0 L694.4 541.7 L694.4 544.8 L695.2 538.1 L696.0 533.4 L696.0 535.0 L696.8 537.7 L697.6 534.1 L698.4 537.5 L698.4 534.9 L699.2 541.4 L700.0 542.8 L700.0 542.8 L700.8 538.4 L701.6 537.7 L702.0 533.2 L702.4 534.3 L703.2 540.1 L704.0 537.3 L704.4 539.2 L704.8 545.6 L705.6 543.0 L706.4 545.8 L707.0 547.3 L707.2 548.4 L708.0 553.8 L708.8 553.8 L709.0 553.9 L709.6 551.0 L710.4 545.8 L711.0 549.1 L711.2 551.3 L712.0 552.2 L712.8 549.9 L713.6 549.3 L714.0 548.9 L714.4 547.6 L715.2 546.1 L716.0 547.2 L716.8 547.9 L717.0 548.8 L717.6 551.2 L718.4 556.6 L719.0 554.4 L719.2 552.4 L720.0 548.4 L720.8 542.2 L721.0 541.7 L721.6 541.2 L722.4 546.1 L723.2 546.8 L723.6 548.3 L724.0 547.4 L724.8 546.7 L725.6 546.2 L726.0 550.3 L726.4 553.0 L727.2 550.4 L728.0 554.2 L728.4 557.6 L728.8 558.4 L729.6 560.5 L730.4 558.9 L731.0 557.6 L731.2 557.0 L732.0 559.4 L732.8 561.2 L733.0 559.6 L733.6 560.0 L734.4 559.0 L734.6 564.0 L735.2 564.4 L736.0 554.6 L736.4 553.6 L736.8 554.7 L737.6 550.9 L738.0 550.1 L738.4 550.2 L739.2 542.9 L739.6 536.9 L740.0 532.8 L740.8 530.0 L741.0 526.7 L741.6 529.1 L742.4 528.7 L743.0 524.8 L743.2 526.4 L744.0 527.8 L744.8 523.6 L745.6 528.6 L745.6 530.5 L746.4 526.5 L747.2 524.5 L748.0 525.2 L748.0 524.5 L748.8 527.6 L749.0 526.0 L749.6 522.6 L750.4 525.6 L751.2 527.5 L752.0 525.5 L752.0 527.6 L752.8 526.3 L753.6 526.0 L754.4 526.9 L755.0 528.3 L755.2 531.9 L756.0 527.7 L756.8 525.0 L757.6 521.8 L757.6 516.9 L758.4 522.1 L759.2 524.4 L760.0 528.8 L760.0 531.1 L760.8 525.9 L761.6 527.8 L762.4 531.5 L763.0 529.2 L763.2 527.9 L764.0 529.8 L764.8 532.9 L765.6 529.0 L766.0 533.2 L766.4 530.6 L767.2 535.2 L768.0 537.4 L768.8 531.8 L769.0 534.0 L769.6 534.9 L770.4 530.9 L771.2 530.4 L772.0 532.8 L772.0 532.1 L772.8 530.0 L773.6 533.7 L774.4 536.4 L775.0 537.7 L775.2 532.2 L776.0 539.4 L776.8 535.8 L777.6 530.1 L778.0 529.8 L778.4 530.6 L779.2 529.7 L780.0 531.6 L780.8 533.8 L781.0 532.5 L781.6 533.9 L782.4 536.5 L783.2 538.1 L784.0 535.3 L784.0 538.4 L784.8 540.3 L785.6 540.0 L785.6 544.4 L786.4 554.6 L786.6 557.8 L787.2 555.2 L788.0 559.1 L788.8 557.2 L789.0 557.7 L789.6 553.5 L790.4 554.4 L791.2 554.0 L791.6 551.7 L792.0 549.4 L792.8 554.3 L793.6 555.7 L793.6 554.1 L794.4 547.3 L795.0 543.0 L795.2 546.9 L796.0 547.1 L796.8 557.2 L797.0 558.9 L797.6 554.9 L798.4 559.4 L799.2 557.1 L800.0 557.2 L800.0 554.9 L800.8 554.7 L801.6 556.2 L802.4 555.4 L802.4 552.3 L803.2 556.8 L804.0 559.7 L804.4 559.9 L804.8 556.3 L805.6 564.7 L805.6 563.2 L806.4 560.7 L807.0 555.4 L807.2 552.4 L808.0 554.7 L808.8 556.2 L809.6 552.0 L809.6 548.1 L810.4 552.4 L811.2 544.8 L811.6 547.2 L812.0 545.9 L812.8 546.1 L813.6 549.0 L814.0 552.3 L814.4 551.3 L815.2 551.9 L816.0 554.2 L816.8 553.5 L817.0 556.3 L817.6 557.9 L818.4 556.2 L819.0 550.5 L819.2 553.5 L820.0 551.9 L820.8 550.7 L821.0 549.0 L821.6 543.6 L822.4 540.8 L822.4 545.4 L823.2 546.3 L824.0 547.3 L824.8 541.3 L825.0 544.8 L825.6 539.9 L826.4 546.4 L827.0 545.7 L827.2 545.5 L828.0 545.0 L828.8 549.0 L829.6 550.7 L829.6 551.6 L830.4 550.7 L831.2 550.3 L832.0 550.6 L832.0 549.2 L832.8 541.9 L833.6 540.5 L833.6 543.0 L834.4 539.2 L835.2 540.5 L835.6 538.6 L836.0 533.8 L836.8 532.2 L837.0 529.8 L837.6 524.0 L838.4 519.0 L838.6 517.2 L839.2 507.3 L839.6 503.8 L840.0 505.7 L840.8 508.6 L841.6 510.9 L842.0 506.8 L842.4 507.0 L843.2 503.7 L844.0 506.2 L844.8 507.9 L845.0 505.3 L845.6 503.0 L846.4 500.9 L847.0 501.2 L847.2 499.7 L848.0 501.3 L848.8 500.0 L849.6 504.3 L849.6 507.4 L850.4 503.2 L851.2 495.3 L852.0 497.2 L852.0 497.8 L852.8 492.9 L853.6 488.2 L853.6 487.1 L854.4 492.4 L855.2 498.9 L856.0 497.7 L856.0 494.6 L856.8 490.6 L857.6 489.2 L858.0 487.7 L858.4 489.4 L859.2 490.2 L860.0 490.7 L860.8 492.4 L861.0 495.3 L861.6 494.9 L862.4 493.7 L863.2 489.2 L863.6 490.5 L864.0 485.0 L864.8 490.1 L865.6 485.7 L865.6 485.2 L866.4 485.7 L867.2 489.4 L868.0 488.8 L868.0 493.6 L868.8 484.5 L869.6 490.4 L870.4 485.0 L870.4 481.8 L871.2 477.3 L872.0 474.9 L872.0 475.0 L872.8 462.6 L873.6 460.4 L873.6 458.1 L874.4 455.3 L875.2 458.7 L876.0 458.3 L876.0 458.7 L876.8 466.6 L877.6 469.1 L878.4 473.7 L878.4 471.8 L879.2 472.2 L880.0 465.7 L880.8 462.2 L881.0 465.3 L881.6 466.1 L882.4 468.2 L883.0 473.2 L883.2 468.8 L884.0 468.0 L884.8 464.8 L885.6 460.5 L885.6 460.8 L886.4 459.8 L887.2 462.4 L888.0 461.7 L888.0 461.2 L888.8 464.0 L889.6 466.2 L890.4 469.4 L891.0 467.3 L891.2 464.4 L892.0 466.5 L892.8 465.2 L893.6 468.3 L893.6 468.5 L894.4 464.3 L895.2 457.4 L895.6 453.5 L896.0 452.9 L896.8 460.5 L897.6 463.4 L897.6 466.0 L898.4 463.7 L899.2 461.7 L899.6 460.1 L900.0 455.7 L900.8 443.9 L901.0 445.6 L901.6 441.2 L902.4 443.8 L902.4 448.4 L903.2 452.7 L904.0 459.5 L904.0 464.4 L904.8 462.9 L905.6 463.9 L906.4 464.0 L906.4 465.2 L907.2 467.2 L908.0 466.4 L908.8 472.4 L909.0 472.0 L909.6 472.1 L910.4 474.8 L911.0 477.3 L911.2 477.6 L912.0 480.3 L912.6 483.2 L912.8 484.8 L913.6 480.4 L914.4 470.8 L914.4 473.8 L915.2 469.9 L916.0 465.2 L916.8 463.7 L917.0 464.9 L917.6 467.0 L918.4 462.8 L919.0 463.3 L919.2 462.1 L920.0 465.2 L920.8 465.6 L921.6 464.0 L921.6 463.2 L922.4 466.5 L923.2 460.5 L923.6 463.7 L924.0 463.0 L924.8 452.1 L925.6 447.5 L925.6 448.3 L926.4 447.9 L927.2 440.7 L928.0 442.7 L928.0 443.8 L928.8 440.3 L929.6 434.9 L930.0 429.8 L930.4 429.7 L931.2 424.1 L932.0 423.1 L932.4 426.0 L932.8 426.7 L933.6 432.0 L934.4 425.6 L935.0 430.5 L935.2 429.3 L936.0 429.5 L936.8 436.5 L937.6 433.3 L937.6 436.6 L938.4 432.4 L939.2 424.6 L939.4 424.8 L940.0 420.4 L940.6 406.6 L940.8 404.0 L941.6 402.5 L942.0 396.2 L942.4 393.0 L943.2 395.4 L944.0 398.0 L944.0 399.6 L944.8 403.4 L945.6 400.3 L945.6 401.6 L946.4 392.3 L947.0 380.7 L947.2 383.8 L948.0 379.2 L948.8 379.3 L949.6 375.2 L949.6 377.1 L950.4 368.4 L951.0 370.3 L951.2 369.0 L952.0 369.1 L952.6 367.7 L952.8 364.5 L953.6 375.0 L954.0 376.7 L954.4 381.2 L955.2 381.0 L956.0 382.7 L956.0 380.4 L956.8 391.7 L957.6 397.1 L958.0 396.2 L958.4 393.1 L959.2 390.9 L960.0 390.8 L960.0 387.8 L960.8 385.5 L961.6 377.6 L962.0 375.6 L962.4 378.8 L963.2 376.6 L964.0 373.0 L964.0 373.9 L964.8 375.0 L965.6 375.9 L966.0 373.9 L966.4 376.2 L967.2 378.7 L968.0 386.8 L968.4 385.9 L968.8 380.8 L969.6 381.9 L970.4 380.2 L970.4 382.2 L971.2 379.2 L972.0 372.3 L972.8 368.5 L973.0 369.7 L973.6 369.0 L974.4 370.8 L975.2 375.8 L975.6 375.3 L976.0 373.8 L976.8 377.0 L977.6 384.7 L977.6 380.8 L978.4 392.3 L979.0 395.7 L979.2 396.5 L980.0 396.2 L980.8 398.4 L981.0 398.9 L981.6 395.4 L982.4 393.0 L983.0 389.0 L983.2 387.9 L984.0 385.9 L984.8 381.0 L985.0 383.7 L985.6 386.5 L986.4 385.2 L987.2 392.6 L987.6 392.3 L988.0 391.0 L988.8 388.9 L989.6 395.4 L990.0 394.5 L990.4 396.8 L991.2 404.8 L992.0 410.8 L992.0 413.0 L992.8 402.8 L993.6 401.2 L994.0 392.3 L994.4 393.4 L995.2 387.0 L996.0 388.9 L996.0 390.2 L996.8 395.4 L997.6 398.9 L998.0 398.8 L998.4 395.8 L999.2 403.8 L1000.0 400.7 L1000.0 405.4 L1000.8 403.1 L1001.6 399.5 L1002.4 394.9 L1002.4 391.0 L1003.2 394.4 L1004.0 385.9 L1004.0 388.1 L1004.8 383.7 L1005.6 382.3 L1006.0 380.9 L1006.4 377.8 L1007.2 374.5 L1007.6 373.4 L1008.0 377.4 L1008.8 377.9 L1009.6 377.2 L1010.0 379.6 L1010.4 383.8 L1011.2 376.2 L1012.0 377.2 L1012.0 372.6 L1012.8 375.7 L1013.6 381.7 L1014.4 380.1 L1015.0 382.3 L1015.2 385.0 L1016.0 375.5 L1016.8 373.1 L1017.6 376.0 L1017.6 380.4 L1018.4 377.1 L1019.2 373.1 L1020.0 370.1 L1020.0 369.6 L1020.8 367.8 L1021.6 369.6 L1022.0 374.4 L1022.4 376.0 L1023.2 372.0 L1024.0 376.1 L1024.4 377.9 L1024.8 376.6 L1025.6 377.3 L1026.4 382.5 L1027.0 383.5 L1027.2 383.6 L1028.0 379.6 L1028.8 380.5 L1029.6 384.6 L1030.0 386.0 L1030.4 391.1 L1031.2 390.8 L1032.0 391.8 L1032.4 391.3 L1032.8 395.2 L1033.6 396.6 L1034.4 394.3 L1035.0 395.1 L1035.2 400.6 L1036.0 397.7 L1036.4 402.2 L1036.8 400.4 L1037.6 401.6 L1038.4 398.1 L1038.4 400.0 L1039.2 396.2 L1040.0 393.0 L1040.0 394.0 L1040.8 399.7 L1041.6 402.5 L1042.0 404.1 L1042.4 407.9 L1043.2 418.0 L1044.0 420.3 L1044.0 415.9 L1044.8 415.3 L1045.6 411.1 L1046.4 410.7 L1046.4 412.6 L1047.2 411.5 L1048.0 413.1 L1048.8 411.6 L1049.0 410.2 L1049.6 409.6 L1050.4 397.4 L1051.0 393.9 L1051.2 395.1 L1052.0 394.2 L1052.8 389.0 L1053.0 385.4 L1053.6 386.6 L1054.4 385.4 L1055.0 385.2 L1055.2 383.3 L1056.0 382.4 L1056.8 378.3 L1057.0 379.3 L1057.6 383.7 L1058.4 386.5 L1059.0 384.2 L1059.2 384.3 L1059.6 388.8 L1060.0 388.8 L1060.8 378.3 L1061.0 380.2 L1061.6 376.6 L1062.4 377.2 L1062.6 375.4 L1063.2 374.9 L1064.0 386.0 L1064.4 386.8 L1064.8 384.6 L1065.6 397.6 L1066.0 398.3 L1066.4 401.0 L1067.2 414.0 L1067.4 414.7 L1068.0 428.8 L1068.4 438.1 L1068.8 427.0 L1069.6 415.5 L1069.6 419.3 L1070.4 406.9 L1071.0 397.4 L1071.2 396.2 L1072.0 404.2 L1072.8 407.4 L1073.0 408.8 L1073.6 403.3 L1074.4 406.0 L1075.0 401.5 L1075.2 404.1 L1076.0 406.5 L1076.6 410.7 L1076.8 407.3 L1077.6 406.6 L1078.4 408.1 L1079.0 408.3 L1079.2 409.5 L1080.0 403.3 L1080.8 397.7 L1081.0 399.5 L1081.6 398.3 L1082.4 395.7 L1083.0 390.3 L1083.2 390.2 L1084.0 389.5 L1084.8 392.0 L1085.0 392.6 L1085.6 390.6 L1086.4 400.0 L1087.0 401.8 L1087.2 399.4 L1088.0 408.3 L1088.8 408.5 L1089.0 408.1 L1089.6 405.0 L1090.4 411.7 L1091.0 407.5 L1091.2 406.3 L1092.0 413.7 L1092.8 416.9 L1093.0 415.8 L1093.6 422.9 L1094.4 421.1 L1094.6 427.2 L1095.2 423.5 L1096.0 420.1 L1096.4 418.5 L1096.8 416.9 L1097.6 415.4 L1098.4 411.8 L1098.4 410.3 L1099.2 409.2 L1100.0 401.8 L1100.0 399.4 L1100.8 400.9 L1101.6 405.6 L1102.0 408.3 L1102.4 403.7 L1103.2 397.7 L1104.0 393.8 L1104.0 395.0 L1104.8 393.4 L1105.6 389.0 L1106.4 392.5 L1106.4 390.8 L1107.2 393.6 L1108.0 388.2 L1108.8 390.2 L1109.0 393.7 L1109.6 387.8 L1110.4 390.6 L1111.0 386.3 L1111.2 388.2 L1112.0 389.7 L1112.8 390.2 L1113.0 390.4 L1113.6 391.8 L1114.4 399.7 L1115.0 403.3 L1115.2 403.2 L1116.0 399.8 L1116.8 398.0 L1117.0 397.1 L1117.6 396.6 L1118.4 394.1 L1119.0 393.1 L1119.2 392.5 L1120.0 394.1 L1120.8 403.4 L1121.0 406.0 L1121.6 405.6 L1122.4 396.4 L1122.4 392.9 L1123.2 390.3 L1124.0 386.3 L1124.4 386.1 L1124.8 383.2 L1125.6 378.0 L1126.4 379.5 L1126.4 378.2 L1127.2 377.1 L1128.0 377.7 L1128.8 379.8 L1129.0 377.2 L1129.6 376.8 L1130.4 383.1 L1131.2 379.5 L1131.6 385.3 L1132.0 382.3 L1132.8 381.3 L1133.6 383.8 L1134.0 383.1 L1134.4 379.5 L1135.2 380.5 L1136.0 378.4 L1136.0 375.8 L1136.8 375.9 L1137.4 367.7 L1137.6 365.6 L1138.4 368.5 L1139.2 372.4 L1139.4 375.8 L1140.0 373.5 L1140.8 384.7 L1141.4 383.0 L1141.6 378.7 L1142.4 366.2 L1142.6 366.0 L1143.2 358.5 L1144.0 356.7 L1144.0 357.8 L1144.8 359.3 L1145.4 356.5 L1145.6 353.3 L1146.4 341.6 L1146.6 338.7 L1147.2 333.4 L1147.6 329.3 L1148.0 330.4 L1148.6 323.7 L1148.8 324.2 L1149.6 330.1 L1150.0 334.1 L1150.4 333.1 L1151.2 330.0 L1152.0 327.3 L1152.0 325.4 L1152.8 326.3 L1153.6 324.7 L1154.0 320.9 L1154.4 318.0 L1155.2 314.5 L1155.6 310.7 L1156.0 314.6 L1156.8 311.9 L1157.6 315.4 L1157.6 319.4 L1158.4 322.7 L1159.0 325.3 L1159.2 321.9 L1160.0 317.6 L1160.8 315.0 L1161.0 314.6 L1161.6 315.3 L1162.4 317.4 L1163.2 316.0 L1163.6 319.3 L1164.0 319.0 L1164.8 308.0 L1165.6 304.0 L1165.6 303.4 L1166.4 310.2 L1167.2 311.0 L1167.6 312.2 L1168.0 314.0 L1168.8 310.6 L1169.6 312.6 L1170.0 317.5 L1170.4 314.2 L1171.2 313.1 L1172.0 307.9 L1172.0 306.2 L1172.8 306.7 L1173.6 301.8 L1174.0 303.1 L1174.4 300.2 L1175.2 300.4 L1175.6 296.3 L1176.0 298.0 L1176.8 303.7 L1177.0 311.3 L1177.6 312.5 L1178.4 321.4 L1178.4 318.7 L1179.2 317.2 L1180.0 313.2 L1180.4 313.2 L1180.8 314.6 L1181.6 317.6 L1182.4 321.3 L1182.4 321.0 L1183.2 319.4 L1184.0 314.2 L1184.0 315.6 L1184.8 314.2 L1185.6 323.0 L1186.0 323.9 L1186.4 327.1 L1187.2 316.6 L1188.0 317.4 L1188.4 317.8 L1188.8 315.8 L1189.6 312.8 L1190.4 312.1 L1190.4 314.7 L1191.2 310.1 L1192.0 305.8 L1192.0 307.0 L1192.8 314.6 L1193.6 318.4 L1193.6 318.0 L1194.4 317.0 L1195.2 326.9 L1195.6 322.7 L1196.0 322.9 L1196.8 323.4 L1197.0 325.9 L1197.6 319.2 L1198.4 317.7 L1199.0 312.0 L1199.2 309.2 L1200.0 305.0 L1200.6 300.9 L1200.8 301.8 L1201.6 296.8 L1202.4 292.0 L1202.6 295.3 L1203.2 300.3 L1204.0 302.4 L1204.4 306.8 L1204.8 304.9 L1205.6 302.9 L1206.4 299.1 L1206.4 302.2 L1207.2 305.8 L1208.0 309.9 L1208.8 311.7 L1209.0 310.9 L1209.6 306.8 L1210.4 303.2 L1211.0 297.7 L1211.2 301.6 L1212.0 304.3 L1212.6 307.6 L1212.8 306.2 L1213.6 320.7 L1214.0 322.1 L1214.4 324.0 L1215.2 316.9 L1216.0 308.7 L1216.0 311.2 L1216.8 310.3 L1217.6 312.7 L1218.4 317.6 L1218.4 317.4 L1219.2 317.2 L1220.0 317.3 L1220.8 315.0 L1221.0 313.4 L1221.6 312.7 L1222.4 316.5 L1223.2 319.9 L1223.6 317.9 L1224.0 321.6 L1224.8 315.8 L1225.6 319.7 L1226.0 318.5 L1226.4 318.1 L1227.2 316.2 L1228.0 311.9 L1228.0 309.9 L1228.8 313.2 L1229.6 318.5 L1230.0 318.6 L1230.4 324.9 L1231.2 326.7 L1231.6 331.0 L1232.0 337.2 L1232.8 343.6 L1233.4 353.3 L1233.6 348.5 L1234.4 338.6 L1234.6 335.1 L1235.2 331.2 L1236.0 321.4 L1236.0 325.4 L1236.8 328.3 L1237.4 340.1 L1237.6 333.6 L1238.4 326.2 L1239.0 323.7 L1239.2 325.4 L1240.0 338.2 L1240.6 344.5 L1240.8 341.5 L1241.6 353.1 L1242.0 354.5 L1242.4 356.2 L1243.2 346.2 L1243.6 341.8 L1244.0 338.9 L1244.8 339.6 L1245.6 339.8 L1245.6 338.2 L1246.4 344.6 L1247.2 345.8 L1247.6 345.4 L1248.0 343.1 L1248.8 341.4 L1249.6 335.4 L1249.6 340.4 L1250.4 333.8 L1251.2 336.9 L1251.6 340.7 L1252.0 341.1 L1252.8 332.3 L1253.6 332.0 L1253.6 329.9 L1254.4 331.0 L1255.2 333.0 L1255.6 335.1 L1256.0 339.4 L1256.8 342.3 L1257.6 343.3 L1257.6 345.5 L1258.4 343.2 L1259.2 342.3 L1260.0 335.3 L1260.0 332.7 L1260.8 340.4 L1261.6 346.3 L1262.0 344.8 L1262.4 351.7 L1263.2 360.0 L1264.0 362.0 L1264.0 358.0 L1264.8 358.8 L1265.6 357.5 L1266.0 360.1 L1266.4 349.2 L1267.0 345.3 L1267.2 347.9 L1268.0 340.8 L1268.8 336.2 L1269.0 338.5 L1269.6 338.3 L1270.4 341.8 L1271.0 338.2 L1271.2 338.4 L1272.0 334.6 L1272.8 341.9 L1273.0 340.6 L1273.6 337.6 L1274.4 338.1 L1275.0 339.3 L1275.2 336.4 L1276.0 325.5 L1276.4 326.2 L1276.8 320.1 L1277.6 323.6 L1278.0 319.3 L1278.4 320.9 L1279.2 318.0 L1280.0 319.2 L1280.0 315.8 L1280.8 319.8 L1281.6 318.0 L1282.0 319.7 L1282.4 319.0 L1283.2 316.7 L1284.0 313.1 L1284.0 314.1 L1284.8 315.1 L1285.6 319.9 L1286.0 318.8 L1286.4 318.0 L1287.2 324.2 L1287.6 319.5 L1288.0 318.3 L1288.8 313.2 L1289.0 308.9 L1289.6 305.5 L1290.4 304.1 L1290.6 302.2 L1291.2 298.5 L1292.0 302.5 L1292.6 304.6 L1292.8 303.0 L1293.6 308.3 L1294.4 303.1 L1295.0 304.2 L1295.2 303.7 L1296.0 303.0 L1296.8 305.1 L1297.0 303.7 L1297.6 300.4 L1298.4 294.5 L1298.6 296.7 L1299.2 292.9 L1300.0 290.3 L1300.4 289.0 L1300.8 287.0 L1301.6 298.0 L1302.4 295.2 L1302.4 293.5 L1303.2 294.0 L1304.0 290.8 L1304.4 292.5 L1304.8 294.6 L1305.6 296.9 L1306.4 298.9 L1306.4 302.7 L1307.2 301.3 L1308.0 302.6 L1308.0 302.1 L1308.8 298.8 L1309.6 298.1 L1310.0 298.6 L1310.4 297.4 L1311.2 303.0 L1311.6 305.8 L1312.0 302.3 L1312.8 298.6 L1313.0 299.0 L1313.6 298.6 L1314.4 296.1 L1315.0 293.9 L1315.2 292.1 L1316.0 295.4 L1316.8 298.2 L1317.0 301.4 L1317.6 301.6 L1318.4 300.3 L1319.0 295.4 L1319.2 299.0 L1320.0 301.7 L1320.8 306.7 L1321.0 302.8 L1321.6 301.7 L1322.4 298.8 L1323.0 300.1 L1323.2 299.7 L1324.0 303.8 L1324.8 308.1 L1325.0 308.9 L1325.6 306.3 L1326.4 299.5 L1326.4 299.1 L1327.2 297.5 L1328.0 298.3 L1328.8 298.2 L1329.0 295.0 L1329.6 295.6 L1330.4 294.5 L1331.0 297.7 L1331.2 296.9 L1332.0 292.6 L1332.8 295.3 L1333.0 294.1 L1333.6 296.1 L1334.4 295.8 L1335.2 296.4 L1335.6 296.1 L1336.0 295.1 L1336.8 291.3 L1337.6 294.7 L1338.0 294.6 L1338.4 294.1 L1339.2 288.8 L1339.2 292.3 L1340.0 278.7 L1340.0 274.9 L1340.8 274.6 L1341.0 278.9 L1341.6 270.7 L1342.0 271.2 L1342.4 275.2 L1343.2 280.7 L1343.2 281.9 L1344.0 282.7 L1344.5 275.5 L1344.8 275.7 L1345.6 272.4 L1345.8 277.4 L1346.4 277.5 L1347.0 278.6 L1347.2 274.7 L1348.0 278.5 L1348.5 275.2 L1348.8 272.8 L1349.6 276.8 L1350.0 280.0 L1350.4 280.2 L1351.2 283.7 L1351.2 281.0 L1352.0 278.1 L1352.0 276.4 L1352.8 274.1 L1353.5 279.9 L1353.6 277.7 L1354.4 278.1 L1354.8 276.3 L1355.2 274.2 L1356.0 279.3 L1356.0 276.9 L1356.8 287.4 L1357.0 284.0 L1357.6 289.8 L1358.0 287.9 L1358.4 288.7 L1359.2 288.2 L1359.5 285.6 L1360.0 290.0 L1360.8 285.3 L1360.8 287.6 L1361.6 278.5 L1362.0 280.7 L1362.4 281.4 L1363.2 281.1 L1363.5 280.2 L1364.0 275.7 L1364.8 271.7 L1364.8 270.1 L1365.6 271.3 L1365.8 274.4 L1366.4 273.3 L1366.8 271.6 L1367.2 273.2 L1367.5 276.3 L1368.0 278.5 L1368.8 279.5 L1369.0 278.6 L1369.6 279.0 L1370.4 280.6 L1370.5 280.3 L1371.2 286.0 L1371.8 283.9 L1372.0 285.5 L1372.8 285.7 L1372.8 288.1 L1373.6 286.3 L1374.0 282.4 L1374.4 280.8 L1375.0 285.9 L1375.2 283.4 L1376.0 289.4 L1376.2 293.1 L1376.8 289.2 L1377.5 286.4 L1377.6 290.8 L1378.4 291.9 L1378.8 293.4 L1379.2 292.0 L1380.0 295.7 L1380.0 296.5 L1380.8 299.6 L1381.5 296.7 L1381.6 299.3 L1382.4 290.3 L1382.5 290.9 L1383.2 291.3 L1383.8 293.0 L1384.0 294.6 L1384.8 288.5 L1385.0 287.6 L1385.6 291.4 L1386.4 291.7 L1386.5 290.5 L1387.2 292.0 L1388.0 289.5 L1388.0 287.1 L1388.8 289.9 L1389.2 284.6 L1389.6 283.7 L1390.4 280.0 L1390.5 280.2 L1391.2 279.5 L1392.0 283.0 L1392.0 284.5 L1392.8 283.1 L1393.5 281.7 L1393.6 281.5 L1394.4 281.4 L1395.0 279.3 L1395.2 279.7 L1396.0 281.3 L1396.5 281.8 L1396.8 287.1 L1397.6 280.9 L1398.0 284.4 L1398.4 284.9 L1399.2 282.0 L1399.5 286.8 L1400.0 289.9 L1400.8 293.2 L1401.0 292.8 L1401.6 289.6 L1402.4 292.6 L1402.5 292.6 L1403.2 292.8 L1404.0 289.0 L1404.0 286.4 L1404.8 287.9 L1405.2 283.0 L1405.6 282.9 L1406.4 276.1 L1406.5 274.8 L1407.2 273.3 L1407.8 270.0 L1408.0 274.2 L1408.8 269.8 L1409.0 268.8 L1409.6 268.6 L1410.0 268.1 L1410.4 267.5 L1411.0 270.7 L1411.2 275.3 L1412.0 273.1 L1412.2 272.5 L1412.8 282.3 L1413.0 283.4 L1413.6 285.7 L1414.0 292.6 L1414.4 287.6 L1415.0 285.7 L1415.2 285.1 L1416.0 283.8 L1416.0 283.1 L1416.8 285.4 L1417.0 291.7 L1417.6 293.0 L1418.4 303.1 L1418.5 300.6 L1419.2 298.5 L1419.5 293.9 L1420.0 287.6 L1420.5 290.1 L1420.8 290.4 L1421.6 287.9 L1421.8 286.8 L1422.4 296.7 L1422.8 296.0 L1423.2 298.7 L1424.0 291.6 L1424.0 289.6 L1424.8 288.2 L1425.0 288.1 L1425.6 286.2 L1426.2 282.1 L1426.4 280.8 L1427.2 282.9 L1427.5 284.1 L1428.0 285.5 L1428.5 289.9 L1428.8 296.4 L1429.2 296.1" fill="none" stroke="#000" stroke-width="2.8" stroke-linejoin="round" stroke-linecap="round"/>
<!-- right axis -->
<line x1="1432.5" x2="1432.5" y1="183" y2="731.5" stroke="#5c5c5c" stroke-width="1.1"/>
<!-- labels -->
<g id="labels"><g font-size="14" fill="#4a4a55"><text x="148.3" y="187.6" text-anchor="end" textLength="17.4" lengthAdjust="spacingAndGlyphs">0.7</text><text x="148.3" y="265.9" text-anchor="end" textLength="17.4" lengthAdjust="spacingAndGlyphs">0.6</text><text x="148.3" y="344.2" text-anchor="end" textLength="17.4" lengthAdjust="spacingAndGlyphs">0.5</text><text x="148.3" y="422.5" text-anchor="end" textLength="17.4" lengthAdjust="spacingAndGlyphs">0.4</text><text x="148.3" y="500.7" text-anchor="end" textLength="17.4" lengthAdjust="spacingAndGlyphs">0.3</text><text x="148.3" y="579.0" text-anchor="end" textLength="17.4" lengthAdjust="spacingAndGlyphs">0.2</text><text x="148.3" y="657.3" text-anchor="end" textLength="17.4" lengthAdjust="spacingAndGlyphs">0.1</text><text x="148.3" y="735.6" text-anchor="end" textLength="7.4" lengthAdjust="spacingAndGlyphs">0</text><text x="1451.5" y="187.6" textLength="37.3" lengthAdjust="spacingAndGlyphs">$200k</text><text x="1451.5" y="314.4" textLength="37.3" lengthAdjust="spacingAndGlyphs">$100k</text><text x="1451.5" y="379.6" textLength="29.5" lengthAdjust="spacingAndGlyphs">$70k</text><text x="1451.5" y="441.2" textLength="29.5" lengthAdjust="spacingAndGlyphs">$50k</text><text x="1451.5" y="534.6" textLength="29.5" lengthAdjust="spacingAndGlyphs">$30k</text><text x="1451.5" y="608.8" textLength="29.5" lengthAdjust="spacingAndGlyphs">$20k</text><text x="1451.5" y="735.6" textLength="29.5" lengthAdjust="spacingAndGlyphs">$10k</text></g><g font-size="15.5" fill="#45454f"><text x="213.0" y="764.6" textLength="48.3" lengthAdjust="spacingAndGlyphs">Oct '21</text><text x="287.1" y="764.6" textLength="47.4" lengthAdjust="spacingAndGlyphs">Jan '22</text><text x="357.9" y="764.6" textLength="49.7" lengthAdjust="spacingAndGlyphs">Apr '22</text><text x="433.8" y="764.6" textLength="43.3" lengthAdjust="spacingAndGlyphs">Jul '22</text><text x="504.9" y="764.6" textLength="48.3" lengthAdjust="spacingAndGlyphs">Oct '22</text><text x="578.9" y="764.6" textLength="47.4" lengthAdjust="spacingAndGlyphs">Jan '23</text><text x="649.7" y="764.6" textLength="49.7" lengthAdjust="spacingAndGlyphs">Apr '23</text><text x="725.6" y="764.6" textLength="43.3" lengthAdjust="spacingAndGlyphs">Jul '23</text><text x="796.7" y="764.6" textLength="48.3" lengthAdjust="spacingAndGlyphs">Oct '23</text><text x="870.7" y="764.6" textLength="47.4" lengthAdjust="spacingAndGlyphs">Jan '24</text><text x="942.3" y="764.6" textLength="49.7" lengthAdjust="spacingAndGlyphs">Apr '24</text><text x="1018.2" y="764.6" textLength="43.3" lengthAdjust="spacingAndGlyphs">Jul '24</text><text x="1089.3" y="764.6" textLength="48.3" lengthAdjust="spacingAndGlyphs">Oct '24</text><text x="1163.3" y="764.6" textLength="47.4" lengthAdjust="spacingAndGlyphs">Jan '25</text><text x="1234.1" y="764.6" textLength="49.7" lengthAdjust="spacingAndGlyphs">Apr '25</text><text x="1310.1" y="764.6" textLength="43.3" lengthAdjust="spacingAndGlyphs">Jul '25</text><text x="1381.1" y="764.6" textLength="48.3" lengthAdjust="spacingAndGlyphs">Oct '25</text></g><g stroke="#e9e9e9" stroke-width="1.1"><line x1="237.2" x2="237.2" y1="732" y2="745"/><line x1="310.8" x2="310.8" y1="732" y2="745"/><line x1="382.7" x2="382.7" y1="732" y2="745"/><line x1="455.5" x2="455.5" y1="732" y2="745"/><line x1="529.0" x2="529.0" y1="732" y2="745"/><line x1="602.6" x2="602.6" y1="732" y2="745"/><line x1="674.5" x2="674.5" y1="732" y2="745"/><line x1="747.3" x2="747.3" y1="732" y2="745"/><line x1="820.8" x2="820.8" y1="732" y2="745"/><line x1="894.4" x2="894.4" y1="732" y2="745"/><line x1="967.1" x2="967.1" y1="732" y2="745"/><line x1="1039.9" x2="1039.9" y1="732" y2="745"/><line x1="1113.5" x2="1113.5" y1="732" y2="745"/><line x1="1187.0" x2="1187.0" y1="732" y2="745"/><line x1="1259.0" x2="1259.0" y1="732" y2="745"/><line x1="1331.7" x2="1331.7" y1="732" y2="745"/><line x1="1405.3" x2="1405.3" y1="732" y2="745"/></g></g>
<!-- footer -->
<text x="40" y="860" font-size="20" fill="#7d7d7d" textLength="358" lengthAdjust="spacingAndGlyphs">© 2025 Glassnode. All Rights Reserved.</text>
<use href="#gn" stroke="#111" stroke-width="4"/>
</svg>
</body></html>
